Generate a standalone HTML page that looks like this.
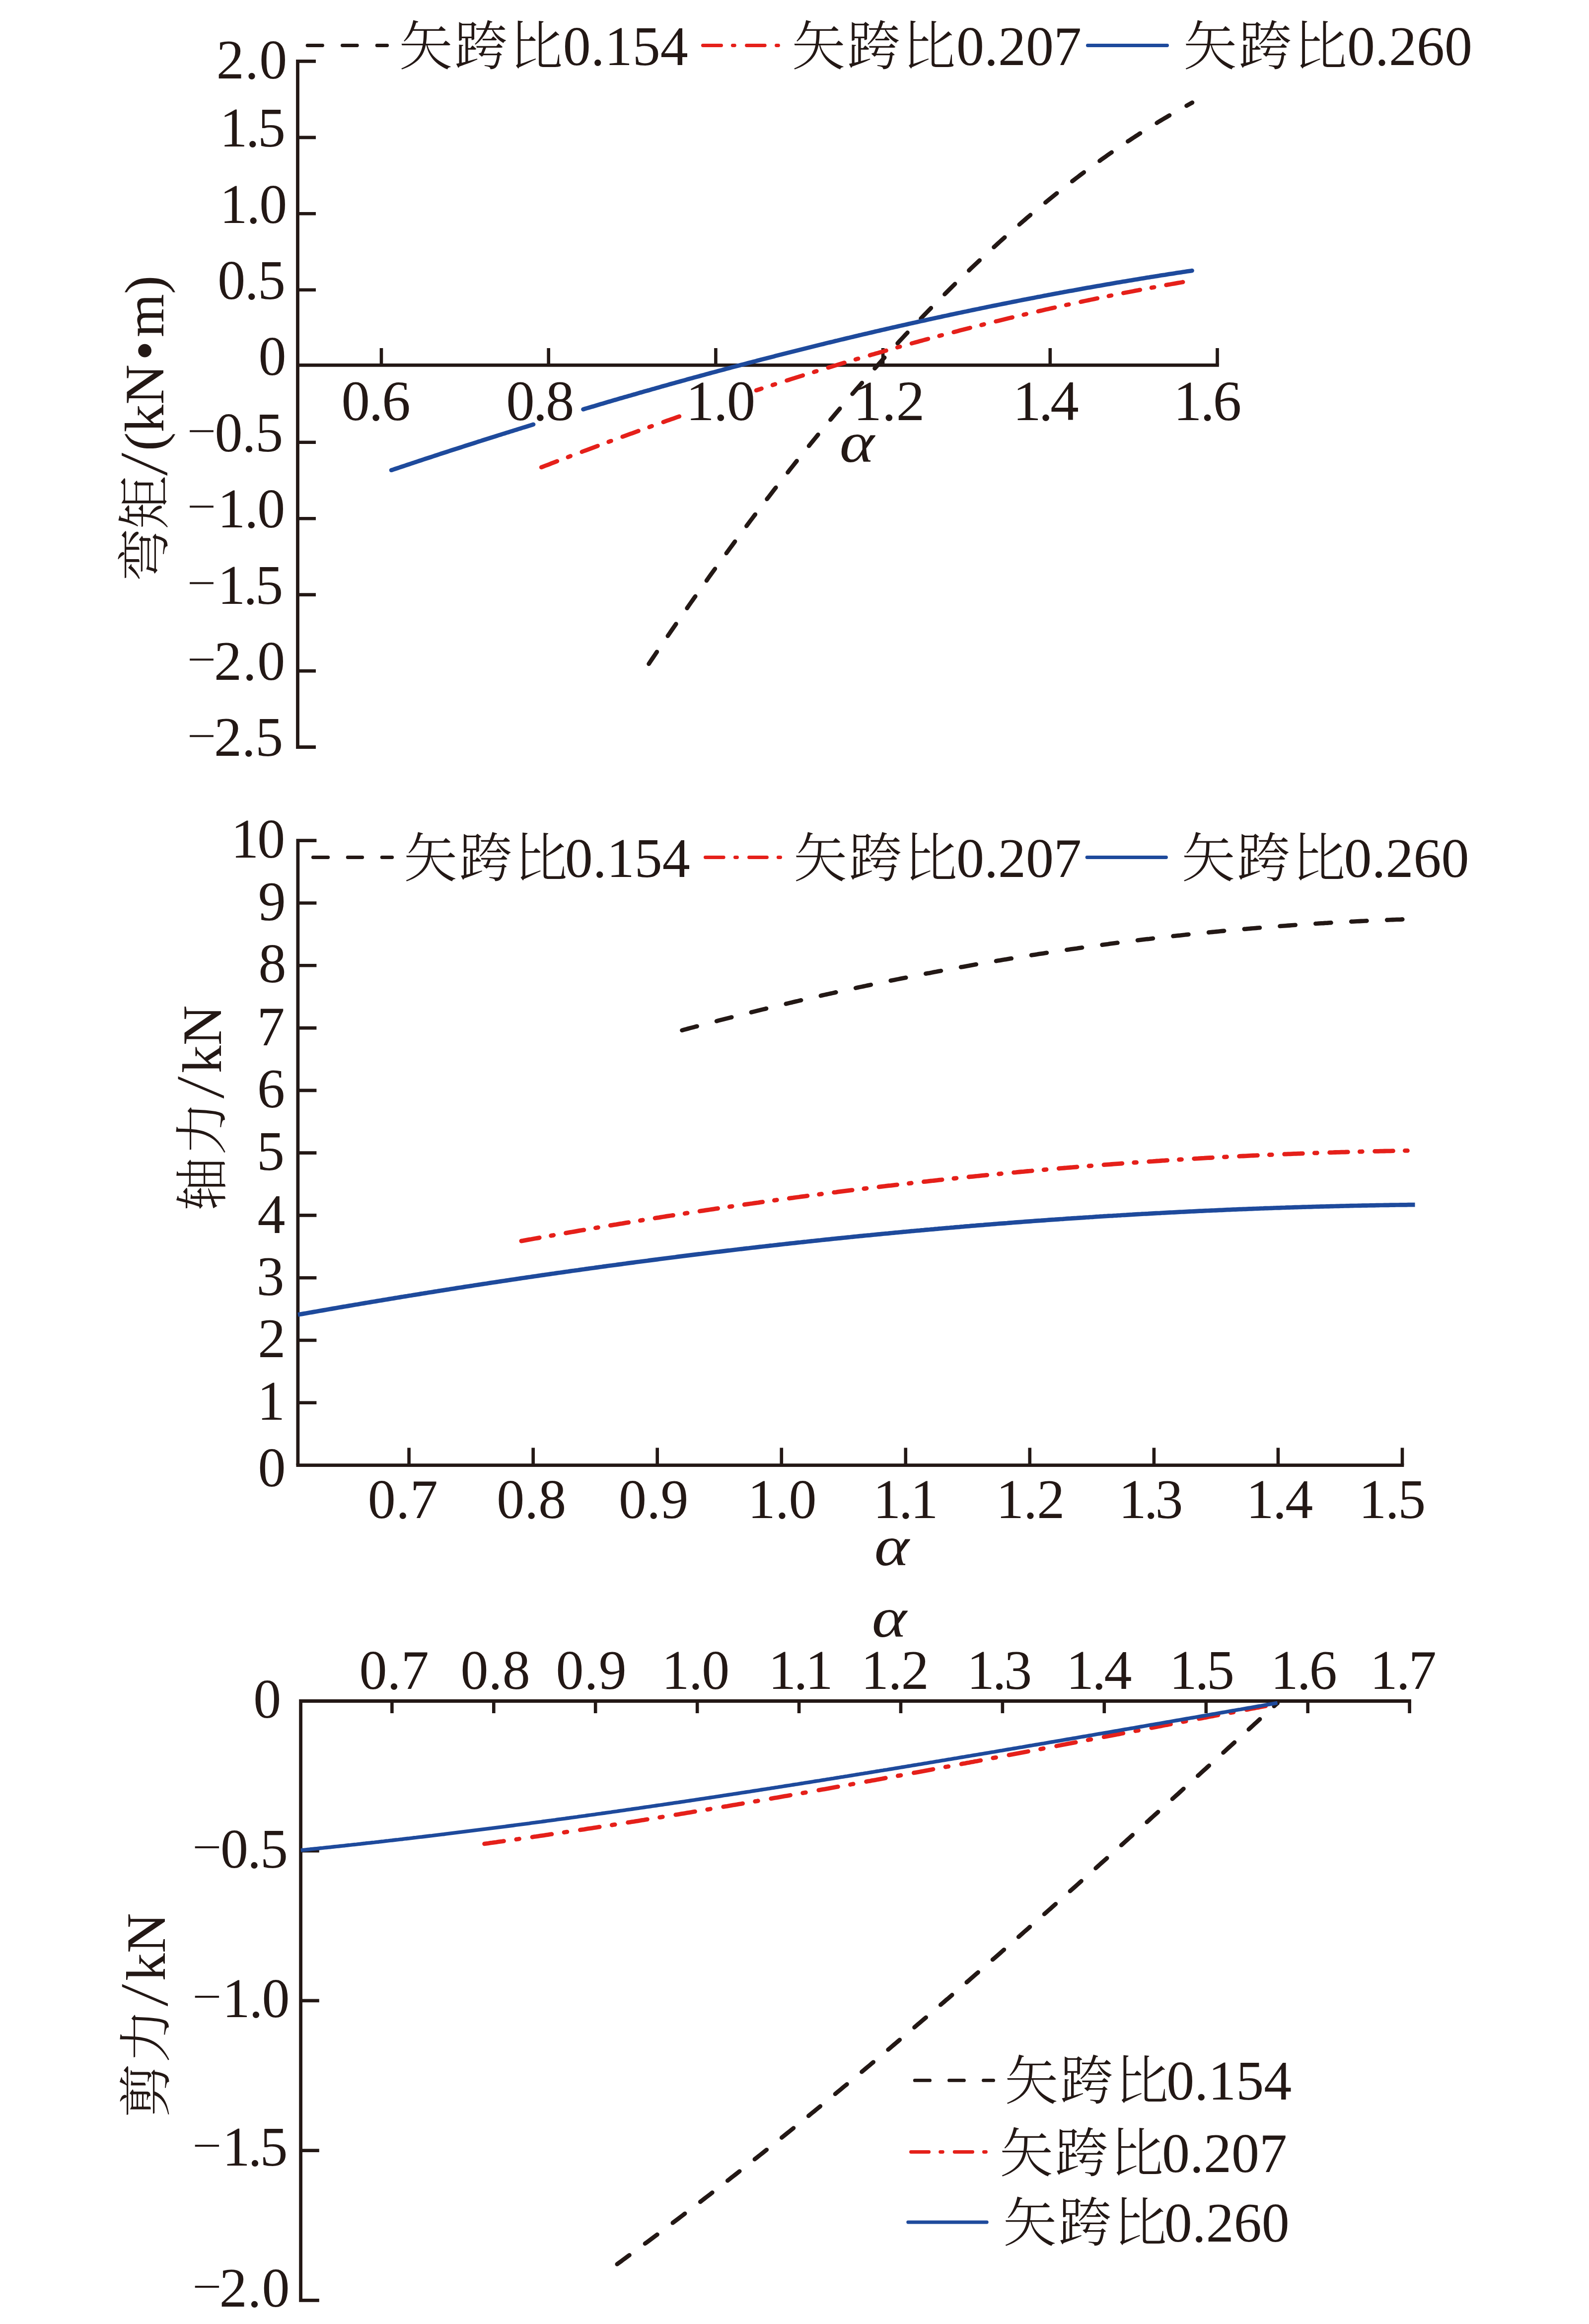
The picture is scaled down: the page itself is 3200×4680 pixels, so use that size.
<!DOCTYPE html>
<html><head><meta charset="utf-8"><title>矢跨比与弯矩、轴力、剪力关系</title>
<style>
html,body{margin:0;padding:0;background:#fff;width:3200px;height:4680px;}
::-webkit-scrollbar{width:0;height:0;display:none;}
svg{display:block;}
text{font-family:"Liberation Serif", "Noto Serif CJK SC", serif;fill:#231815;}
</style></head>
<body>
<svg width="3200" height="4680" viewBox="0 0 3200 4680">
<rect width="3200" height="4680" fill="#fff"/>
<path d="M636,123.4 H599.5 V1504.5 H636" fill="none" stroke="#231815" stroke-width="6.8"/>
<line x1="599.5" y1="735.3" x2="2454.8" y2="735.3" stroke="#231815" stroke-width="6.8"/>
<line x1="599.5" y1="276.9" x2="636.0" y2="276.9" stroke="#231815" stroke-width="6.6"/>
<line x1="599.5" y1="430.3" x2="636.0" y2="430.3" stroke="#231815" stroke-width="6.6"/>
<line x1="599.5" y1="583.8" x2="636.0" y2="583.8" stroke="#231815" stroke-width="6.6"/>
<line x1="599.5" y1="890.7" x2="636.0" y2="890.7" stroke="#231815" stroke-width="6.6"/>
<line x1="599.5" y1="1044.2" x2="636.0" y2="1044.2" stroke="#231815" stroke-width="6.6"/>
<line x1="599.5" y1="1197.6" x2="636.0" y2="1197.6" stroke="#231815" stroke-width="6.6"/>
<line x1="599.5" y1="1351.1" x2="636.0" y2="1351.1" stroke="#231815" stroke-width="6.6"/>
<line x1="768.0" y1="735.3" x2="768.0" y2="701.0" stroke="#231815" stroke-width="6.6"/>
<line x1="1104.7" y1="735.3" x2="1104.7" y2="701.0" stroke="#231815" stroke-width="6.6"/>
<line x1="1441.4" y1="735.3" x2="1441.4" y2="701.0" stroke="#231815" stroke-width="6.6"/>
<line x1="1778.1" y1="735.3" x2="1778.1" y2="701.0" stroke="#231815" stroke-width="6.6"/>
<line x1="2114.8" y1="735.3" x2="2114.8" y2="701.0" stroke="#231815" stroke-width="6.6"/>
<line x1="2451.5" y1="735.3" x2="2451.5" y2="701.0" stroke="#231815" stroke-width="6.6"/>
<text x="435.8" y="158.1" font-size="112" letter-spacing="1.19">2.0</text>
<text x="442.4" y="295.3" font-size="112" letter-spacing="-3.64">1.5</text>
<text x="442.4" y="449.3" font-size="112" letter-spacing="-2.1">1.0</text>
<text x="438.3" y="602.2" font-size="112" letter-spacing="-1.63">0.5</text>
<text x="520.4" y="754.5" font-size="112">0</text>
<text x="432.6" y="908.9" font-size="112" letter-spacing="-1.18">0.5</text>
<text transform="translate(377.0,894.9) scale(1,0.78)" font-size="102.7">&#8722;</text>
<text x="438.2" y="1062.3" font-size="112" letter-spacing="-1.95">1.0</text>
<text transform="translate(377.0,1046.6) scale(1,0.78)" font-size="102.7">&#8722;</text>
<text x="438.2" y="1216.1" font-size="112" letter-spacing="-3.94">1.5</text>
<text transform="translate(377.0,1201.1) scale(1,0.78)" font-size="102.7">&#8722;</text>
<text x="431.1" y="1369.2" font-size="112" letter-spacing="1.59">2.0</text>
<text transform="translate(377.0,1354.6) scale(1,0.78)" font-size="102.7">&#8722;</text>
<text x="431.1" y="1522.0" font-size="112" letter-spacing="-0.4">2.5</text>
<text transform="translate(377.0,1509.1) scale(1,0.78)" font-size="102.7">&#8722;</text>
<text x="687.5" y="846.0" font-size="115" letter-spacing="-2.22">0.6</text>
<text x="1019.3" y="846.0" font-size="115" letter-spacing="-3.25">0.8</text>
<text x="1381.3" y="846.0" font-size="115" letter-spacing="-1.88">1.0</text>
<text x="1718.4" y="846.0" font-size="115" letter-spacing="0.05">1.2</text>
<text x="2039.5" y="846.0" font-size="115" letter-spacing="-5.22">1.4</text>
<text x="2362.9" y="846.0" font-size="115" letter-spacing="-3.21">1.6</text>
<text transform="translate(1690.8,929.6) scale(1.192,1.037)" font-size="112" font-style="italic">α</text>
<text transform="translate(329.4,1171) rotate(-90)" x="-0.2" y="0" font-size="108" font-weight="300">弯</text>
<text transform="translate(329.4,1171) rotate(-90)" x="105.2" y="0" font-size="108" font-weight="300">矩</text>
<text transform="translate(329.4,1171) rotate(-90)" x="262.9" y="0" font-size="112">(kN</text>
<text transform="translate(329.4,1171) rotate(-90)" x="445.2" y="0" font-size="112">•</text>
<text transform="translate(329.4,1171) rotate(-90)" x="491.9" y="0" font-size="112">m)</text>
<text transform="translate(329.4,1171) rotate(-90) translate(212.3,-9.9) scale(1.246,0.873)" font-size="112" font-weight="300" style="font-family:&quot;Noto Serif CJK SC&quot;, serif">/</text>
<path d="M1306.6,1336.9 L1310.6,1330.9 L1314.6,1325.0 L1318.6,1319.1 L1322.6,1313.2 L1322.9,1312.7 M1344.8,1280.6 L1348.6,1275.1 L1352.6,1269.3 L1356.6,1263.5 L1360.6,1257.7 L1361.4,1256.6 M1383.6,1224.7 L1387.1,1219.6 L1391.1,1213.9 L1395.1,1208.2 L1399.1,1202.6 L1400.3,1200.9 M1422.9,1169.2 L1426.6,1163.9 L1430.6,1158.3 L1434.6,1152.8 L1438.6,1147.2 L1439.9,1145.5 M1462.8,1114.0 L1466.7,1108.7 L1470.7,1103.3 L1474.7,1097.9 L1478.7,1092.4 L1480.1,1090.5 M1503.3,1059.3 L1507.2,1054.2 L1511.2,1048.8 L1515.2,1043.5 L1519.2,1038.2 L1520.9,1036.0 M1544.5,1005.0 L1548.2,1000.3 L1552.2,995.1 L1556.2,989.9 L1560.2,984.7 L1562.4,981.9 M1586.4,951.3 L1590.2,946.4 L1594.2,941.4 L1598.2,936.3 L1602.2,931.3 L1604.6,928.3 M1629.0,898.0 L1632.7,893.4 L1636.7,888.5 L1640.7,883.6 L1644.7,878.7 L1647.5,875.3 M1672.4,845.3 L1676.2,840.7 L1680.2,835.9 L1684.2,831.2 L1688.2,826.5 L1691.2,822.9 M1716.6,793.3 L1720.3,789.0 L1724.3,784.4 L1728.3,779.8 L1732.3,775.2 L1735.8,771.1 M1761.6,741.9 L1765.3,737.8 L1769.3,733.3 L1773.3,728.9 L1777.3,724.4 L1781.2,720.1 M1807.6,691.3 L1811.3,687.2 L1815.3,682.9 L1819.3,678.6 L1823.3,674.3 L1827.3,670.1 L1827.5,669.8 M1854.5,641.4 L1858.3,637.4 L1862.3,633.3 L1866.3,629.1 L1870.3,625.0 L1874.3,620.9 L1874.9,620.3 M1902.4,592.5 L1906.3,588.6 L1910.3,584.6 L1914.3,580.6 L1918.3,576.7 L1922.3,572.7 L1923.2,571.8 M1951.3,544.6 L1955.3,540.7 L1959.3,536.9 L1963.3,533.1 L1967.3,529.4 L1971.3,525.6 L1972.7,524.3 M2001.5,497.7 L2005.4,494.2 L2009.4,490.5 L2013.4,486.9 L2017.4,483.3 L2021.4,479.7 L2023.3,478.0 M2052.8,452.1 L2056.4,448.9 L2060.4,445.5 L2064.4,442.1 L2068.4,438.6 L2072.4,435.2 L2075.1,432.9 M2105.3,407.8 L2108.9,404.9 L2112.9,401.6 L2116.9,398.4 L2120.9,395.1 L2124.9,391.9 L2128.3,389.2 M2159.2,365.0 L2162.9,362.2 L2166.9,359.1 L2170.9,356.1 L2174.9,353.0 L2178.9,350.0 L2182.8,347.1 M2214.5,323.9 L2218.4,321.1 L2222.4,318.2 L2226.4,315.4 L2230.4,312.6 L2234.4,309.8 L2238.4,307.0 L2238.7,306.8 M2271.3,284.7 L2275.0,282.3 L2279.0,279.6 L2283.0,277.0 L2287.0,274.4 L2291.0,271.8 L2295.0,269.2 L2296.1,268.5 M2329.6,247.6 L2333.5,245.2 L2337.5,242.8 L2341.5,240.4 L2345.5,238.1 L2349.5,235.7 L2353.5,233.3 L2355.1,232.4 M2389.5,212.9 L2393.5,210.7 L2397.5,208.5 L2401.0,206.6" fill="none" stroke="#231815" stroke-width="8.6" stroke-linecap="round"/>
<path d="M1090.2,941.0 L1094.2,939.5 L1098.2,937.9 L1102.2,936.4 L1106.2,934.9 L1110.2,933.3 L1114.2,931.8 L1118.2,930.2 L1122.0,928.8 M1143.8,920.5 L1144.2,920.3 L1144.7,920.1 L1145.2,919.9 L1145.7,919.7 L1146.2,919.6 L1146.7,919.4 L1147.2,919.2 L1147.7,919.0 L1148.2,918.8 L1148.7,918.6 L1148.8,918.6 M1171.8,909.9 L1175.7,908.4 L1179.7,906.9 L1183.7,905.4 L1187.7,903.9 L1191.7,902.4 L1195.7,900.9 L1199.7,899.4 L1203.7,897.9 M1225.6,889.8 L1225.7,889.8 L1226.2,889.6 L1226.7,889.4 L1227.2,889.2 L1227.7,889.0 L1228.2,888.8 L1228.7,888.6 L1229.2,888.5 L1229.7,888.3 L1230.2,888.1 L1230.6,888.0 M1253.6,879.5 L1257.2,878.2 L1261.2,876.7 L1265.2,875.3 L1269.2,873.8 L1273.2,872.4 L1277.2,870.9 L1281.2,869.5 L1285.2,868.0 L1285.7,867.8 M1307.6,859.9 L1307.7,859.9 L1308.2,859.7 L1308.7,859.6 L1309.2,859.4 L1309.7,859.2 L1310.2,859.0 L1310.7,858.8 L1311.2,858.7 L1311.7,858.5 L1312.2,858.3 L1312.7,858.1 M1335.8,849.9 L1339.7,848.5 L1343.7,847.1 L1347.7,845.7 L1351.7,844.3 L1355.7,842.9 L1359.7,841.5 L1363.7,840.1 L1367.7,838.7 L1368.0,838.6 M1523.0,786.1 L1526.7,784.9 L1530.7,783.6 L1533.6,782.6 M1555.9,775.4 L1556.2,775.3 L1556.7,775.1 L1557.2,775.0 L1557.7,774.8 L1558.2,774.7 L1558.7,774.5 L1559.2,774.3 L1559.7,774.2 L1560.2,774.0 L1560.7,773.8 L1561.0,773.8 M1584.4,766.3 L1588.2,765.1 L1592.2,763.8 L1596.2,762.5 L1600.2,761.3 L1604.2,760.0 L1608.2,758.8 L1612.2,757.5 L1616.2,756.3 L1616.9,756.0 M1639.3,749.1 L1639.7,749.0 L1640.2,748.8 L1640.7,748.6 L1641.2,748.5 L1641.7,748.3 L1642.2,748.2 L1642.7,748.0 L1643.2,747.9 L1643.7,747.7 L1644.2,747.6 L1644.4,747.5 M1667.9,740.3 L1671.7,739.2 L1675.7,737.9 L1679.7,736.7 L1683.7,735.5 L1687.7,734.3 L1691.7,733.1 L1695.7,731.9 L1699.7,730.7 L1700.6,730.5 M1723.0,723.8 L1723.2,723.7 L1723.7,723.6 L1724.2,723.4 L1724.7,723.3 L1725.2,723.1 L1725.7,723.0 L1726.2,722.8 L1726.7,722.7 L1727.2,722.6 L1727.7,722.4 L1728.2,722.3 M1751.8,715.4 L1755.8,714.2 L1759.8,713.1 L1763.8,711.9 L1767.8,710.8 L1771.8,709.6 L1775.8,708.5 L1779.8,707.3 L1783.8,706.2 L1784.6,705.9 M1807.2,699.5 L1810.8,698.5 L1812.3,698.1 M1836.0,691.5 L1839.8,690.5 L1843.8,689.4 L1847.8,688.3 L1851.8,687.2 L1855.8,686.1 L1859.8,685.0 L1863.8,683.9 L1867.8,682.8 L1869.0,682.5 M1891.6,676.4 L1895.3,675.4 L1896.8,675.0 M1920.6,668.8 L1924.3,667.8 L1928.3,666.8 L1932.3,665.7 L1936.3,664.7 L1940.3,663.7 L1944.3,662.6 L1948.3,661.6 L1952.3,660.6 L1953.7,660.2 M1976.4,654.4 L1976.8,654.4 L1977.3,654.2 L1977.8,654.1 L1978.3,654.0 L1978.8,653.9 L1979.3,653.7 L1979.8,653.6 L1980.3,653.5 L1980.8,653.4 L1981.3,653.2 L1981.6,653.1 M2005.5,647.2 L2009.3,646.3 L2013.3,645.3 L2017.3,644.3 L2021.3,643.4 L2025.3,642.4 L2029.3,641.4 L2033.3,640.4 L2037.3,639.5 L2038.8,639.1 M2061.6,633.7 L2065.3,632.8 L2066.8,632.5 M2090.8,626.9 L2094.8,626.0 L2098.8,625.1 L2102.8,624.1 L2106.8,623.2 L2110.8,622.3 L2114.8,621.4 L2118.8,620.5 L2122.8,619.6 L2124.2,619.3 M2147.0,614.2 L2150.8,613.4 L2152.3,613.1 M2176.4,607.9 L2180.3,607.0 L2184.3,606.2 L2188.3,605.3 L2192.3,604.5 L2196.3,603.7 L2200.3,602.8 L2204.3,602.0 L2208.3,601.1 L2209.9,600.8 M2232.8,596.1 L2233.3,596.0 L2233.8,595.9 L2234.3,595.8 L2234.8,595.7 L2235.3,595.6 L2235.8,595.5 L2236.3,595.4 L2236.8,595.3 L2237.3,595.2 L2237.8,595.1 L2238.1,595.0 M2262.3,590.2 L2266.3,589.4 L2270.3,588.6 L2274.3,587.9 L2278.3,587.1 L2282.3,586.3 L2286.3,585.5 L2290.3,584.8 L2294.3,584.0 L2295.9,583.7 M2319.0,579.4 L2319.3,579.3 L2319.8,579.2 L2320.3,579.1 L2320.8,579.0 L2321.3,578.9 L2321.8,578.8 L2322.3,578.7 L2322.8,578.7 L2323.3,578.6 L2323.8,578.5 L2324.3,578.4 M2348.5,574.0 L2352.3,573.3 L2356.3,572.6 L2360.3,571.9 L2364.3,571.2 L2368.3,570.5 L2372.3,569.8 L2376.3,569.1 L2380.3,568.4 L2382.2,568.0" fill="none" stroke="#e5201a" stroke-width="8.5" stroke-linecap="round"/>
<path d="M788.1,946.8 L792.1,945.5 L796.1,944.1 L800.1,942.8 L804.1,941.5 L808.1,940.1 L812.1,938.8 L816.1,937.5 L820.1,936.1 L824.1,934.8 L828.1,933.5 L832.1,932.2 L836.1,930.8 L840.1,929.5 L844.1,928.2 L848.1,926.9 L852.1,925.5 L856.1,924.2 L860.1,922.9 L864.1,921.6 L868.1,920.3 L872.1,919.0 L876.1,917.7 L880.1,916.4 L884.1,915.0 L888.1,913.7 L892.1,912.4 L896.1,911.1 L900.1,909.8 L904.1,908.5 L908.1,907.2 L912.1,905.9 L916.1,904.6 L920.1,903.4 L924.1,902.1 L928.1,900.8 L932.1,899.5 L936.1,898.2 L940.1,896.9 L944.1,895.6 L948.1,894.3 L952.1,893.1 L956.1,891.8 L960.1,890.5 L964.1,889.2 L968.1,888.0 L972.1,886.7 L976.1,885.4 L980.1,884.1 L984.1,882.9 L988.1,881.6 L992.1,880.3 L996.1,879.1 L1000.1,877.8 L1004.1,876.5 L1008.1,875.3 L1012.1,874.0 L1016.1,872.8 L1020.1,871.5 L1024.1,870.3 L1028.1,869.0 L1032.1,867.8 L1036.1,866.5 L1040.1,865.3 L1044.1,864.0 L1048.1,862.8 L1052.1,861.5 L1056.1,860.3 L1060.1,859.1 L1064.1,857.8 L1068.1,856.6 L1072.1,855.3 L1074.1,854.7 M1174.5,824.3 L1178.1,823.2 L1182.1,822.0 L1186.1,820.8 L1190.1,819.6 L1194.1,818.5 L1198.1,817.3 L1202.1,816.1 L1206.1,814.9 L1210.1,813.7 L1214.1,812.6 L1218.1,811.4 L1222.1,810.2 L1226.1,809.0 L1230.1,807.9 L1234.1,806.7 L1238.1,805.5 L1242.1,804.4 L1246.1,803.2 L1250.1,802.0 L1254.1,800.9 L1258.1,799.7 L1262.1,798.6 L1266.1,797.4 L1270.1,796.3 L1274.1,795.1 L1278.1,794.0 L1282.1,792.8 L1286.1,791.7 L1290.1,790.5 L1294.1,789.4 L1298.1,788.2 L1302.1,787.1 L1306.1,786.0 L1310.1,784.8 L1314.1,783.7 L1318.1,782.6 L1322.1,781.4 L1326.1,780.3 L1330.1,779.2 L1334.1,778.0 L1338.1,776.9 L1342.1,775.8 L1346.1,774.7 L1350.1,773.5 L1354.1,772.4 L1358.1,771.3 L1362.1,770.2 L1366.1,769.1 L1370.1,768.0 L1374.1,766.9 L1378.1,765.8 L1382.1,764.7 L1386.1,763.5 L1390.1,762.4 L1394.1,761.3 L1398.1,760.2 L1402.1,759.2 L1406.1,758.1 L1410.1,757.0 L1414.1,755.9 L1418.1,754.8 L1422.1,753.7 L1426.1,752.6 L1430.1,751.5 L1434.1,750.4 L1438.1,749.4 L1442.1,748.3 L1446.1,747.2 L1450.1,746.1 L1454.1,745.1 L1458.1,744.0 L1462.1,742.9 L1466.1,741.8 L1470.1,740.8 L1474.1,739.7 L1478.1,738.6 L1482.1,737.6 L1486.1,736.5 L1490.1,735.5 L1494.1,734.4 L1498.1,733.4 L1502.1,732.3 L1506.1,731.2 L1510.1,730.2 L1514.1,729.2 L1518.1,728.1 L1522.1,727.1 L1526.1,726.0 L1530.1,725.0 L1534.1,723.9 L1538.1,722.9 L1542.1,721.9 L1546.1,720.8 L1550.1,719.8 L1554.1,718.8 L1558.1,717.8 L1562.1,716.7 L1566.1,715.7 L1570.1,714.7 L1574.1,713.7 L1578.1,712.6 L1582.1,711.6 L1586.1,710.6 L1590.1,709.6 L1594.1,708.6 L1598.1,707.6 L1602.1,706.6 L1606.1,705.6 L1610.1,704.6 L1614.1,703.6 L1618.1,702.6 L1622.1,701.6 L1626.1,700.6 L1630.1,699.6 L1634.1,698.6 L1638.1,697.6 L1642.1,696.6 L1646.1,695.6 L1650.1,694.6 L1654.1,693.6 L1658.1,692.7 L1662.1,691.7 L1666.1,690.7 L1670.1,689.7 L1674.1,688.8 L1678.1,687.8 L1682.1,686.8 L1686.1,685.9 L1690.1,684.9 L1694.1,683.9 L1698.1,683.0 L1702.1,682.0 L1706.1,681.0 L1710.1,680.1 L1714.1,679.1 L1718.1,678.2 L1722.1,677.2 L1726.1,676.3 L1730.1,675.3 L1734.1,674.4 L1738.1,673.4 L1742.1,672.5 L1746.1,671.6 L1750.1,670.6 L1754.1,669.7 L1758.1,668.8 L1762.1,667.8 L1766.1,666.9 L1770.1,666.0 L1774.1,665.0 L1778.1,664.1 L1782.1,663.2 L1786.1,662.3 L1790.1,661.4 L1794.1,660.4 L1798.1,659.5 L1802.1,658.6 L1806.1,657.7 L1810.1,656.8 L1814.1,655.9 L1818.1,655.0 L1822.1,654.1 L1826.1,653.2 L1830.1,652.3 L1834.1,651.4 L1838.1,650.5 L1842.1,649.6 L1846.1,648.7 L1850.1,647.8 L1854.1,646.9 L1858.1,646.0 L1862.1,645.2 L1866.1,644.3 L1870.1,643.4 L1874.1,642.5 L1878.1,641.6 L1882.1,640.8 L1886.1,639.9 L1890.1,639.0 L1894.1,638.2 L1898.1,637.3 L1902.1,636.4 L1906.1,635.6 L1910.1,634.7 L1914.1,633.8 L1918.1,633.0 L1922.1,632.1 L1926.1,631.3 L1930.1,630.4 L1934.1,629.6 L1938.1,628.7 L1942.1,627.9 L1946.1,627.1 L1950.1,626.2 L1954.1,625.4 L1958.1,624.5 L1962.1,623.7 L1966.1,622.9 L1970.1,622.1 L1974.1,621.2 L1978.1,620.4 L1982.1,619.6 L1986.1,618.8 L1990.1,617.9 L1994.1,617.1 L1998.1,616.3 L2002.1,615.5 L2006.1,614.7 L2010.1,613.9 L2014.1,613.1 L2018.1,612.3 L2022.1,611.5 L2026.1,610.7 L2030.1,609.9 L2034.1,609.1 L2038.1,608.3 L2042.1,607.5 L2046.1,606.7 L2050.1,605.9 L2054.1,605.1 L2058.1,604.3 L2062.1,603.5 L2066.1,602.8 L2070.1,602.0 L2074.1,601.2 L2078.1,600.4 L2082.1,599.7 L2086.1,598.9 L2090.1,598.1 L2094.1,597.4 L2098.1,596.6 L2102.1,595.8 L2106.1,595.1 L2110.1,594.3 L2114.1,593.6 L2118.1,592.8 L2122.1,592.0 L2126.1,591.3 L2130.1,590.6 L2134.1,589.8 L2138.1,589.1 L2142.1,588.3 L2146.1,587.6 L2150.1,586.8 L2154.1,586.1 L2158.1,585.4 L2162.1,584.7 L2166.1,583.9 L2170.1,583.2 L2174.1,582.5 L2178.1,581.8 L2182.1,581.0 L2186.1,580.3 L2190.1,579.6 L2194.1,578.9 L2198.1,578.2 L2202.1,577.5 L2206.1,576.8 L2210.1,576.1 L2214.1,575.4 L2218.1,574.7 L2222.1,574.0 L2226.1,573.3 L2230.1,572.6 L2234.1,571.9 L2238.1,571.2 L2242.1,570.5 L2246.1,569.8 L2250.1,569.1 L2254.1,568.4 L2258.1,567.8 L2262.1,567.1 L2266.1,566.4 L2270.1,565.7 L2274.1,565.1 L2278.1,564.4 L2282.1,563.7 L2286.1,563.1 L2290.1,562.4 L2294.1,561.7 L2298.1,561.1 L2302.1,560.4 L2306.1,559.8 L2310.1,559.1 L2314.1,558.5 L2318.1,557.8 L2322.1,557.2 L2326.1,556.6 L2330.1,555.9 L2334.1,555.3 L2338.1,554.6 L2342.1,554.0 L2346.1,553.4 L2350.1,552.7 L2354.1,552.1 L2358.1,551.5 L2362.1,550.9 L2366.1,550.3 L2370.1,549.6 L2374.1,549.0 L2378.1,548.4 L2382.1,547.8 L2386.1,547.2 L2390.1,546.6 L2394.1,546.0 L2398.1,545.4 L2400.6,545.0" fill="none" stroke="#1e4a9c" stroke-width="8.6" stroke-linecap="round"/>
<path d="M619.1,91.5 L649.5,91.5 M689.4,91.5 L719.3,91.5 M759.2,91.5 L779.7,91.5" fill="none" stroke="#231815" stroke-width="6.8" stroke-linecap="round"/>
<text x="803.5" y="131.3" font-size="108" letter-spacing="3.0" font-weight="300">矢跨比</text>
<text x="1133.8" y="130.8" font-size="112">0.154</text>
<path d="M1415.4,91.5 L1452.6,91.5 M1475.4,91.5 L1479.4,91.5 M1503.5,91.5 L1540.3,91.5 M1563.5,91.5 L1567.5,91.5" fill="none" stroke="#e5201a" stroke-width="6.8" stroke-linecap="round"/>
<text x="1594.5" y="131.3" font-size="108" letter-spacing="3.0" font-weight="300">矢跨比</text>
<text x="1925.9" y="130.8" font-size="112">0.207</text>
<path d="M2190.4,91.5 L2350.6,91.5" fill="none" stroke="#1e4a9c" stroke-width="6.8" stroke-linecap="round"/>
<text x="2383.1" y="131.3" font-size="108" letter-spacing="3.0" font-weight="300">矢跨比</text>
<text x="2713.1" y="130.8" font-size="112">0.260</text>
<path d="M637.4,1692.7 H599.9 V2950.6" fill="none" stroke="#231815" stroke-width="6.8"/>
<line x1="596.5" y1="2950.6" x2="2827.3" y2="2950.6" stroke="#231815" stroke-width="6.8"/>
<line x1="599.9" y1="2824.8" x2="637.4" y2="2824.8" stroke="#231815" stroke-width="6.6"/>
<line x1="599.9" y1="2699.0" x2="637.4" y2="2699.0" stroke="#231815" stroke-width="6.6"/>
<line x1="599.9" y1="2573.2" x2="637.4" y2="2573.2" stroke="#231815" stroke-width="6.6"/>
<line x1="599.9" y1="2447.4" x2="637.4" y2="2447.4" stroke="#231815" stroke-width="6.6"/>
<line x1="599.9" y1="2321.6" x2="637.4" y2="2321.6" stroke="#231815" stroke-width="6.6"/>
<line x1="599.9" y1="2195.9" x2="637.4" y2="2195.9" stroke="#231815" stroke-width="6.6"/>
<line x1="599.9" y1="2070.1" x2="637.4" y2="2070.1" stroke="#231815" stroke-width="6.6"/>
<line x1="599.9" y1="1944.3" x2="637.4" y2="1944.3" stroke="#231815" stroke-width="6.6"/>
<line x1="599.9" y1="1818.5" x2="637.4" y2="1818.5" stroke="#231815" stroke-width="6.6"/>
<line x1="823.6" y1="2950.6" x2="823.6" y2="2915.5" stroke="#231815" stroke-width="6.6"/>
<line x1="1073.7" y1="2950.6" x2="1073.7" y2="2915.5" stroke="#231815" stroke-width="6.6"/>
<line x1="1323.7" y1="2950.6" x2="1323.7" y2="2915.5" stroke="#231815" stroke-width="6.6"/>
<line x1="1573.8" y1="2950.6" x2="1573.8" y2="2915.5" stroke="#231815" stroke-width="6.6"/>
<line x1="1823.8" y1="2950.6" x2="1823.8" y2="2915.5" stroke="#231815" stroke-width="6.6"/>
<line x1="2073.8" y1="2950.6" x2="2073.8" y2="2915.5" stroke="#231815" stroke-width="6.6"/>
<line x1="2323.9" y1="2950.6" x2="2323.9" y2="2915.5" stroke="#231815" stroke-width="6.6"/>
<line x1="2573.9" y1="2950.6" x2="2573.9" y2="2915.5" stroke="#231815" stroke-width="6.6"/>
<line x1="2824.0" y1="2950.6" x2="2824.0" y2="2915.5" stroke="#231815" stroke-width="6.6"/>
<text x="465.2" y="1727.2" font-size="112" letter-spacing="-2.89">10</text>
<text x="519.8" y="1852.6" font-size="112">9</text>
<text x="520.4" y="1978.1" font-size="112">8</text>
<text x="517.5" y="2105.4" font-size="112">7</text>
<text x="518.1" y="2230.3" font-size="112">6</text>
<text x="517.1" y="2356.1" font-size="112">5</text>
<text x="518.4" y="2482.6" font-size="112">4</text>
<text x="516.5" y="2608.3" font-size="112">3</text>
<text x="519.3" y="2733.3" font-size="112">2</text>
<text x="518.1" y="2858.5" font-size="112">1</text>
<text x="519.5" y="2992.5" font-size="112">0</text>
<text x="740.7" y="3057.0" font-size="112" letter-spacing="0.55">0.7</text>
<text x="1000.3" y="3057.0" font-size="112" letter-spacing="0.02">0.8</text>
<text x="1246.1" y="3057.0" font-size="112" letter-spacing="0.18">0.9</text>
<text x="1505.7" y="3057.0" font-size="112" letter-spacing="-0.65">1.0</text>
<text x="1758.2" y="3056.7" font-size="112" letter-spacing="-4.31">1.1</text>
<text x="2005.9" y="3056.8" font-size="112" letter-spacing="-0.84">1.2</text>
<text x="2252.8" y="3056.8" font-size="112" letter-spacing="-5.09">1.3</text>
<text x="2509.6" y="3056.7" font-size="112" letter-spacing="-2.65">1.4</text>
<text x="2736.2" y="3056.7" font-size="112" letter-spacing="-2.49">1.5</text>
<text transform="translate(1760.8,3151.8) scale(1.192,1.021)" font-size="112" font-style="italic">α</text>
<text transform="translate(444.7,2433.9) rotate(-90)" x="-4.6" y="0" font-size="108" font-weight="300">轴</text>
<text transform="translate(444.7,2433.9) rotate(-90)" x="107.4" y="0" font-size="108" font-weight="300">力</text>
<text transform="translate(444.7,2433.9) rotate(-90)" x="272.7" y="0" font-size="112">kN</text>
<text transform="translate(444.7,2433.9) rotate(-90) translate(221.0,-10.3) scale(1.209,0.878)" font-size="112" font-weight="300" style="font-family:&quot;Noto Serif CJK SC&quot;, serif">/</text>
<path d="M1373.5,2074.8 L1377.5,2073.7 L1381.5,2072.6 L1385.5,2071.5 L1389.5,2070.4 L1393.5,2069.4 L1397.5,2068.3 L1401.5,2067.2 L1403.6,2066.7 M1443.1,2056.3 L1447.0,2055.2 L1451.0,2054.2 L1455.0,2053.2 L1459.0,2052.1 L1463.0,2051.1 L1467.0,2050.1 L1471.0,2049.1 L1473.3,2048.5 M1512.9,2038.5 L1516.5,2037.6 L1520.5,2036.6 L1524.5,2035.6 L1528.5,2034.6 L1532.5,2033.6 L1536.5,2032.6 L1540.5,2031.7 L1543.1,2031.0 M1582.8,2021.5 L1586.5,2020.6 L1590.5,2019.6 L1594.5,2018.7 L1598.5,2017.7 L1602.5,2016.8 L1606.5,2015.9 L1610.5,2014.9 L1613.2,2014.3 M1652.9,2005.2 L1656.5,2004.3 L1660.5,2003.4 L1664.5,2002.5 L1668.5,2001.6 L1672.5,2000.7 L1676.5,1999.9 L1680.5,1999.0 L1683.4,1998.3 M1723.2,1989.6 L1727.0,1988.8 L1731.0,1987.9 L1735.0,1987.1 L1739.1,1986.2 L1743.1,1985.4 L1747.1,1984.5 L1751.1,1983.7 L1753.8,1983.1 M1793.7,1974.8 L1797.6,1974.1 L1801.6,1973.3 L1805.6,1972.4 L1809.6,1971.6 L1813.6,1970.8 L1817.6,1970.0 L1821.6,1969.2 L1824.3,1968.7 M1864.3,1960.8 L1868.1,1960.1 L1872.1,1959.4 L1876.1,1958.6 L1880.1,1957.8 L1884.1,1957.1 L1888.1,1956.3 L1892.1,1955.6 L1895.0,1955.0 M1935.1,1947.6 L1939.1,1946.9 L1943.1,1946.2 L1947.1,1945.5 L1951.1,1944.8 L1955.1,1944.0 L1959.1,1943.3 L1963.1,1942.6 L1965.8,1942.1 M2006.0,1935.2 L2009.6,1934.6 L2013.6,1933.9 L2017.6,1933.2 L2021.6,1932.6 L2025.6,1931.9 L2029.6,1931.2 L2033.6,1930.6 L2036.8,1930.1 M2077.1,1923.6 L2080.6,1923.0 L2084.6,1922.4 L2088.6,1921.8 L2092.6,1921.1 L2096.6,1920.5 L2100.6,1919.9 L2104.6,1919.3 L2107.9,1918.8 M2148.3,1912.7 L2152.1,1912.2 L2156.1,1911.6 L2160.1,1911.0 L2164.1,1910.4 L2168.1,1909.9 L2172.1,1909.3 L2176.1,1908.7 L2179.1,1908.3 M2219.6,1902.7 L2223.1,1902.2 L2227.1,1901.7 L2231.1,1901.2 L2235.1,1900.6 L2239.1,1900.1 L2243.1,1899.6 L2247.1,1899.1 L2250.5,1898.6 M2291.0,1893.5 L2294.6,1893.1 L2298.6,1892.6 L2302.6,1892.1 L2306.6,1891.6 L2310.6,1891.1 L2314.6,1890.7 L2318.6,1890.2 L2321.9,1889.8 M2362.5,1885.1 L2366.1,1884.7 L2370.1,1884.3 L2374.1,1883.9 L2378.1,1883.4 L2382.1,1883.0 L2386.1,1882.6 L2390.1,1882.1 L2393.5,1881.8 M2434.1,1877.6 L2437.6,1877.3 L2441.6,1876.9 L2445.6,1876.5 L2449.6,1876.1 L2453.6,1875.7 L2457.6,1875.3 L2461.6,1874.9 L2465.1,1874.6 M2505.8,1870.9 L2509.7,1870.6 L2513.7,1870.2 L2517.7,1869.9 L2521.7,1869.5 L2525.7,1869.2 L2529.7,1868.9 L2533.7,1868.5 L2536.9,1868.3 M2577.5,1865.0 L2581.2,1864.8 L2585.2,1864.5 L2589.2,1864.2 L2593.2,1863.9 L2597.2,1863.6 L2601.2,1863.3 L2605.2,1863.0 L2608.7,1862.8 M2649.4,1860.0 L2653.2,1859.8 L2657.2,1859.5 L2661.2,1859.3 L2665.2,1859.1 L2669.2,1858.8 L2673.2,1858.6 L2677.2,1858.3 L2680.5,1858.1 M2721.2,1855.9 L2725.2,1855.7 L2729.2,1855.5 L2733.2,1855.3 L2737.2,1855.1 L2741.2,1854.9 L2745.2,1854.7 L2749.2,1854.5 L2752.4,1854.4 M2793.2,1852.6 L2796.7,1852.5 L2800.7,1852.3 L2804.7,1852.1 L2808.7,1852.0 L2812.7,1851.8 L2816.7,1851.7 L2820.7,1851.6 L2824.3,1851.4" fill="none" stroke="#231815" stroke-width="8.6" stroke-linecap="round"/>
<path d="M1049.9,2499.1 L1053.9,2498.4 L1057.9,2497.6 L1061.9,2496.9 L1065.9,2496.2 L1069.9,2495.5 L1073.9,2494.7 L1077.9,2494.0 L1081.9,2493.3 L1085.9,2492.6 L1086.2,2492.5 M1109.7,2488.3 L1109.9,2488.3 L1110.4,2488.2 L1110.9,2488.1 L1111.4,2488.0 L1111.9,2487.9 L1112.4,2487.8 L1112.9,2487.8 L1113.4,2487.7 L1113.9,2487.6 L1114.4,2487.5 L1114.7,2487.4 M1139.5,2483.1 L1143.4,2482.4 L1147.4,2481.7 L1151.4,2481.0 L1155.4,2480.3 L1159.4,2479.6 L1163.4,2478.9 L1167.4,2478.2 L1171.4,2477.5 L1175.4,2476.8 L1175.9,2476.8 M1199.4,2472.7 L1199.9,2472.6 L1200.4,2472.6 L1200.9,2472.5 L1201.4,2472.4 L1201.9,2472.3 L1202.4,2472.2 L1202.9,2472.1 L1203.4,2472.1 L1203.9,2472.0 L1204.4,2471.9 M1229.3,2467.7 L1232.9,2467.1 L1236.9,2466.4 L1240.9,2465.8 L1244.9,2465.1 L1248.9,2464.4 L1252.9,2463.8 L1256.9,2463.1 L1260.9,2462.4 L1264.9,2461.8 L1265.7,2461.7 M1289.3,2457.8 L1289.4,2457.8 L1289.9,2457.7 L1290.4,2457.6 L1290.9,2457.5 L1291.4,2457.5 L1291.9,2457.4 L1292.4,2457.3 L1292.9,2457.2 L1293.4,2457.1 L1293.9,2457.1 L1294.2,2457.0 M1319.1,2453.0 L1322.9,2452.4 L1326.9,2451.8 L1330.9,2451.1 L1334.9,2450.5 L1338.9,2449.9 L1342.9,2449.2 L1346.9,2448.6 L1350.9,2448.0 L1354.9,2447.4 L1355.6,2447.3 M1379.2,2443.6 L1379.4,2443.6 L1379.9,2443.5 L1380.4,2443.4 L1380.9,2443.3 L1381.4,2443.2 L1381.9,2443.2 L1382.4,2443.1 L1382.9,2443.0 L1383.4,2442.9 L1383.9,2442.9 L1384.1,2442.8 M1409.1,2439.0 L1412.9,2438.4 L1416.9,2437.8 L1420.9,2437.2 L1424.9,2436.6 L1428.9,2436.0 L1432.9,2435.4 L1436.9,2434.8 L1440.9,2434.2 L1444.9,2433.6 L1445.6,2433.5 M1469.2,2430.1 L1469.4,2430.0 L1469.9,2429.9 L1470.4,2429.9 L1470.9,2429.8 L1471.4,2429.7 L1471.9,2429.7 L1472.4,2429.6 L1472.9,2429.5 L1473.4,2429.4 L1473.9,2429.4 L1474.2,2429.3 M1499.2,2425.7 L1503.0,2425.2 L1507.0,2424.6 L1511.0,2424.0 L1515.0,2423.5 L1519.0,2422.9 L1523.0,2422.3 L1527.0,2421.8 L1531.0,2421.2 L1535.0,2420.6 L1535.7,2420.5 M1559.4,2417.2 L1559.5,2417.2 L1560.0,2417.1 L1560.5,2417.1 L1561.0,2417.0 L1561.5,2416.9 L1562.0,2416.9 L1562.5,2416.8 L1563.0,2416.7 L1563.5,2416.7 L1564.0,2416.6 L1564.3,2416.5 M1589.3,2413.1 L1593.0,2412.6 L1597.0,2412.1 L1601.0,2411.5 L1605.0,2411.0 L1609.0,2410.5 L1613.0,2409.9 L1617.0,2409.4 L1621.0,2408.9 L1625.0,2408.3 L1625.9,2408.2 M1649.6,2405.1 L1650.0,2405.1 L1650.5,2405.0 L1651.0,2404.9 L1651.5,2404.9 L1652.0,2404.8 L1652.5,2404.7 L1653.0,2404.7 L1653.5,2404.6 L1654.0,2404.5 L1654.5,2404.5 L1654.6,2404.5 M1679.6,2401.2 L1683.5,2400.8 L1687.5,2400.2 L1691.5,2399.7 L1695.5,2399.2 L1699.5,2398.7 L1703.5,2398.2 L1707.5,2397.7 L1711.5,2397.2 L1715.5,2396.7 L1716.2,2396.6 M1739.9,2393.7 L1740.0,2393.7 L1740.5,2393.7 L1741.0,2393.6 L1741.5,2393.5 L1742.0,2393.5 L1742.5,2393.4 L1743.0,2393.3 L1743.5,2393.3 L1744.0,2393.2 L1744.5,2393.2 L1744.9,2393.1 M1770.0,2390.1 L1774.0,2389.6 L1778.0,2389.1 L1782.0,2388.7 L1786.0,2388.2 L1790.0,2387.7 L1794.0,2387.3 L1798.0,2386.8 L1802.0,2386.3 L1806.0,2385.9 L1806.6,2385.8 M1830.4,2383.1 L1830.5,2383.1 L1831.0,2383.0 L1831.5,2382.9 L1832.0,2382.9 L1832.5,2382.8 L1833.0,2382.8 L1833.5,2382.7 L1834.0,2382.7 L1834.5,2382.6 L1835.0,2382.5 L1835.3,2382.5 M1860.4,2379.7 L1864.0,2379.3 L1868.0,2378.9 L1872.0,2378.4 L1876.0,2378.0 L1880.0,2377.5 L1884.0,2377.1 L1888.0,2376.7 L1892.0,2376.2 L1896.0,2375.8 L1897.1,2375.7 M1920.9,2373.2 L1921.0,2373.1 L1921.5,2373.1 L1922.0,2373.0 L1922.5,2373.0 L1923.0,2372.9 L1923.5,2372.9 L1924.0,2372.8 L1924.5,2372.8 L1925.0,2372.7 L1925.5,2372.7 L1925.9,2372.6 M1951.0,2370.0 L1954.5,2369.7 L1958.5,2369.3 L1962.5,2368.9 L1966.5,2368.5 L1970.5,2368.0 L1974.5,2367.6 L1978.5,2367.2 L1982.5,2366.8 L1986.5,2366.4 L1987.7,2366.3 M2011.5,2364.0 L2011.5,2364.0 L2012.0,2364.0 L2012.5,2363.9 L2013.0,2363.9 L2013.5,2363.8 L2014.0,2363.8 L2014.5,2363.7 L2015.0,2363.7 L2015.5,2363.6 L2016.0,2363.6 L2016.4,2363.5 M2041.6,2361.1 L2045.5,2360.8 L2049.5,2360.4 L2053.5,2360.0 L2057.5,2359.6 L2061.5,2359.3 L2065.5,2358.9 L2069.5,2358.5 L2073.5,2358.2 L2077.5,2357.8 L2078.3,2357.7 M2102.1,2355.6 L2102.5,2355.6 L2103.0,2355.5 L2103.5,2355.5 L2104.0,2355.5 L2104.5,2355.4 L2105.0,2355.4 L2105.5,2355.3 L2106.0,2355.3 L2106.5,2355.2 L2107.0,2355.2 L2107.1,2355.2 M2132.3,2353.0 L2136.0,2352.7 L2140.0,2352.3 L2144.0,2352.0 L2148.0,2351.7 L2152.0,2351.3 L2156.0,2351.0 L2160.0,2350.7 L2164.0,2350.3 L2168.0,2350.0 L2169.0,2349.9 M2192.9,2348.0 L2193.0,2348.0 L2193.5,2348.0 L2194.0,2347.9 L2194.5,2347.9 L2195.0,2347.8 L2195.5,2347.8 L2196.0,2347.8 L2196.5,2347.7 L2197.0,2347.7 L2197.5,2347.6 L2197.8,2347.6 M2223.0,2345.6 L2226.5,2345.4 L2230.5,2345.1 L2234.5,2344.8 L2238.5,2344.5 L2242.5,2344.2 L2246.5,2343.9 L2250.5,2343.6 L2254.5,2343.3 L2258.5,2343.0 L2259.8,2342.9 M2283.7,2341.2 L2284.0,2341.2 L2284.5,2341.1 L2285.0,2341.1 L2285.5,2341.0 L2286.0,2341.0 L2286.5,2341.0 L2287.0,2340.9 L2287.5,2340.9 L2288.0,2340.9 L2288.5,2340.8 L2288.6,2340.8 M2313.8,2339.1 L2317.5,2338.8 L2321.5,2338.6 L2325.5,2338.3 L2329.5,2338.0 L2333.5,2337.8 L2337.5,2337.5 L2341.5,2337.2 L2345.5,2337.0 L2349.5,2336.7 L2350.7,2336.7 M2374.5,2335.1 L2374.5,2335.1 L2375.0,2335.1 L2375.5,2335.1 L2376.0,2335.1 L2376.5,2335.0 L2377.0,2335.0 L2377.5,2335.0 L2378.0,2334.9 L2378.5,2334.9 L2379.0,2334.9 L2379.5,2334.8 M2404.7,2333.3 L2408.6,2333.1 L2412.6,2332.9 L2416.6,2332.6 L2420.6,2332.4 L2424.6,2332.2 L2428.6,2331.9 L2432.6,2331.7 L2436.6,2331.5 L2440.6,2331.3 L2441.5,2331.2 M2465.4,2329.9 L2465.6,2329.9 L2466.1,2329.9 L2466.6,2329.9 L2467.1,2329.8 L2467.6,2329.8 L2468.1,2329.8 L2468.6,2329.8 L2469.1,2329.7 L2469.6,2329.7 L2470.1,2329.7 L2470.4,2329.7 M2495.6,2328.4 L2499.6,2328.2 L2503.6,2328.0 L2507.6,2327.8 L2511.6,2327.6 L2515.6,2327.4 L2519.6,2327.2 L2523.6,2327.0 L2527.6,2326.8 L2531.6,2326.6 L2532.5,2326.6 M2556.3,2325.5 L2556.6,2325.5 L2557.1,2325.5 L2557.6,2325.5 L2558.1,2325.4 L2558.6,2325.4 L2559.1,2325.4 L2559.6,2325.4 L2560.1,2325.3 L2560.6,2325.3 L2561.1,2325.3 L2561.3,2325.3 M2586.6,2324.2 L2590.1,2324.1 L2594.1,2323.9 L2598.1,2323.8 L2602.1,2323.6 L2606.1,2323.4 L2610.1,2323.3 L2614.1,2323.1 L2618.1,2323.0 L2622.1,2322.8 L2623.4,2322.8 M2647.3,2321.9 L2647.6,2321.9 L2648.1,2321.9 L2648.6,2321.9 L2649.1,2321.9 L2649.6,2321.8 L2650.1,2321.8 L2650.6,2321.8 L2651.1,2321.8 L2651.6,2321.8 L2652.1,2321.8 L2652.3,2321.7 M2677.6,2320.9 L2681.1,2320.8 L2685.1,2320.7 L2689.1,2320.5 L2693.1,2320.4 L2697.1,2320.3 L2701.1,2320.2 L2705.1,2320.1 L2709.1,2320.0 L2713.1,2319.8 L2714.4,2319.8 M2738.3,2319.2 L2738.6,2319.1 L2739.1,2319.1 L2739.6,2319.1 L2740.1,2319.1 L2740.6,2319.1 L2741.1,2319.1 L2741.6,2319.1 L2742.1,2319.1 L2742.6,2319.0 L2743.1,2319.0 L2743.3,2319.0 M2768.6,2318.4 L2772.1,2318.3 L2776.1,2318.3 L2780.1,2318.2 L2784.1,2318.1 L2788.1,2318.0 L2792.1,2317.9 L2796.1,2317.8 L2800.1,2317.8 L2804.1,2317.7 L2805.5,2317.7 M2829.4,2317.2 L2829.6,2317.2 L2830.1,2317.2 L2830.6,2317.2 L2831.1,2317.2 L2831.6,2317.2 L2832.1,2317.2 L2832.6,2317.2 L2833.1,2317.2 L2833.6,2317.2 L2834.1,2317.2 L2834.4,2317.2" fill="none" stroke="#e5201a" stroke-width="8.8" stroke-linecap="round"/>
<path d="M600.0,2647.5 L604.0,2646.8 L608.0,2646.1 L612.0,2645.4 L616.0,2644.7 L620.0,2644.0 L624.0,2643.3 L628.0,2642.6 L632.0,2641.9 L636.0,2641.2 L640.0,2640.5 L644.0,2639.8 L648.0,2639.1 L652.0,2638.4 L656.0,2637.7 L660.0,2637.0 L664.0,2636.3 L668.0,2635.6 L672.0,2634.9 L676.0,2634.2 L680.0,2633.5 L684.0,2632.8 L688.0,2632.1 L692.0,2631.4 L696.0,2630.8 L700.0,2630.1 L704.0,2629.4 L708.0,2628.7 L712.0,2628.0 L716.0,2627.3 L720.0,2626.7 L724.0,2626.0 L728.0,2625.3 L732.0,2624.6 L736.0,2623.9 L740.0,2623.3 L744.0,2622.6 L748.0,2621.9 L752.0,2621.2 L756.0,2620.6 L760.0,2619.9 L764.0,2619.2 L768.0,2618.6 L772.0,2617.9 L776.0,2617.2 L780.0,2616.6 L784.0,2615.9 L788.0,2615.2 L792.0,2614.6 L796.0,2613.9 L800.0,2613.3 L804.0,2612.6 L808.0,2611.9 L812.0,2611.3 L816.0,2610.6 L820.0,2610.0 L824.0,2609.3 L828.0,2608.7 L832.0,2608.0 L836.0,2607.4 L840.0,2606.7 L844.0,2606.1 L848.0,2605.4 L852.0,2604.8 L856.0,2604.1 L860.0,2603.5 L864.0,2602.8 L868.0,2602.2 L872.0,2601.6 L876.0,2600.9 L880.0,2600.3 L884.0,2599.6 L888.0,2599.0 L892.0,2598.4 L896.0,2597.7 L900.0,2597.1 L904.0,2596.5 L908.0,2595.8 L912.0,2595.2 L916.0,2594.6 L920.0,2593.9 L924.0,2593.3 L928.0,2592.7 L932.0,2592.1 L936.0,2591.4 L940.0,2590.8 L944.0,2590.2 L948.0,2589.6 L952.0,2589.0 L956.0,2588.3 L960.0,2587.7 L964.0,2587.1 L968.0,2586.5 L972.0,2585.9 L976.0,2585.3 L980.0,2584.7 L984.0,2584.0 L988.0,2583.4 L992.0,2582.8 L996.0,2582.2 L1000.0,2581.6 L1004.0,2581.0 L1008.0,2580.4 L1012.0,2579.8 L1016.0,2579.2 L1020.0,2578.6 L1024.0,2578.0 L1028.0,2577.4 L1032.0,2576.8 L1036.0,2576.2 L1040.0,2575.6 L1044.0,2575.0 L1048.0,2574.4 L1052.0,2573.8 L1056.0,2573.2 L1060.0,2572.6 L1064.0,2572.0 L1068.0,2571.5 L1072.0,2570.9 L1076.0,2570.3 L1080.0,2569.7 L1084.0,2569.1 L1088.0,2568.5 L1092.0,2567.9 L1096.0,2567.4 L1100.0,2566.8 L1104.0,2566.2 L1108.0,2565.6 L1112.0,2565.0 L1116.0,2564.5 L1120.0,2563.9 L1124.0,2563.3 L1128.0,2562.8 L1132.0,2562.2 L1136.0,2561.6 L1140.0,2561.0 L1144.0,2560.5 L1148.0,2559.9 L1152.0,2559.3 L1156.0,2558.8 L1160.0,2558.2 L1164.0,2557.7 L1168.0,2557.1 L1172.0,2556.5 L1176.0,2556.0 L1180.0,2555.4 L1184.0,2554.9 L1188.0,2554.3 L1192.0,2553.7 L1196.0,2553.2 L1200.0,2552.6 L1204.0,2552.1 L1208.0,2551.5 L1212.0,2551.0 L1216.0,2550.4 L1220.0,2549.9 L1224.0,2549.3 L1228.0,2548.8 L1232.0,2548.3 L1236.0,2547.7 L1240.0,2547.2 L1244.0,2546.6 L1248.0,2546.1 L1252.0,2545.6 L1256.0,2545.0 L1260.0,2544.5 L1264.0,2543.9 L1268.0,2543.4 L1272.0,2542.9 L1276.0,2542.4 L1280.0,2541.8 L1284.0,2541.3 L1288.0,2540.8 L1292.0,2540.2 L1296.0,2539.7 L1300.0,2539.2 L1304.0,2538.7 L1308.0,2538.1 L1312.0,2537.6 L1316.0,2537.1 L1320.0,2536.6 L1324.0,2536.1 L1328.0,2535.5 L1332.0,2535.0 L1336.0,2534.5 L1340.0,2534.0 L1344.0,2533.5 L1348.0,2533.0 L1352.0,2532.5 L1356.0,2532.0 L1360.0,2531.5 L1364.0,2530.9 L1368.0,2530.4 L1372.0,2529.9 L1376.0,2529.4 L1380.0,2528.9 L1384.0,2528.4 L1388.0,2527.9 L1392.0,2527.4 L1396.0,2526.9 L1400.0,2526.4 L1404.0,2525.9 L1408.0,2525.4 L1412.0,2525.0 L1416.0,2524.5 L1420.0,2524.0 L1424.0,2523.5 L1428.0,2523.0 L1432.0,2522.5 L1436.0,2522.0 L1440.0,2521.5 L1444.0,2521.0 L1448.0,2520.6 L1452.0,2520.1 L1456.0,2519.6 L1460.0,2519.1 L1464.0,2518.6 L1468.0,2518.2 L1472.0,2517.7 L1476.0,2517.2 L1480.0,2516.7 L1484.0,2516.3 L1488.0,2515.8 L1492.0,2515.3 L1496.0,2514.9 L1500.0,2514.4 L1504.0,2513.9 L1508.0,2513.5 L1512.0,2513.0 L1516.0,2512.5 L1520.0,2512.1 L1524.0,2511.6 L1528.0,2511.1 L1532.0,2510.7 L1536.0,2510.2 L1540.0,2509.8 L1544.0,2509.3 L1548.0,2508.9 L1552.0,2508.4 L1556.0,2508.0 L1560.0,2507.5 L1564.0,2507.1 L1568.0,2506.6 L1572.0,2506.2 L1576.0,2505.7 L1580.0,2505.3 L1584.0,2504.8 L1588.0,2504.4 L1592.0,2503.9 L1596.0,2503.5 L1600.0,2503.1 L1604.0,2502.6 L1608.0,2502.2 L1612.0,2501.8 L1616.0,2501.3 L1620.0,2500.9 L1624.0,2500.5 L1628.0,2500.0 L1632.0,2499.6 L1636.0,2499.2 L1640.0,2498.7 L1644.0,2498.3 L1648.0,2497.9 L1652.0,2497.5 L1656.0,2497.0 L1660.0,2496.6 L1664.0,2496.2 L1668.0,2495.8 L1672.0,2495.4 L1676.0,2494.9 L1680.0,2494.5 L1684.0,2494.1 L1688.0,2493.7 L1692.0,2493.3 L1696.0,2492.9 L1700.0,2492.5 L1704.0,2492.1 L1708.0,2491.7 L1712.0,2491.3 L1716.0,2490.8 L1720.0,2490.4 L1724.0,2490.0 L1728.0,2489.6 L1732.0,2489.2 L1736.0,2488.8 L1740.0,2488.4 L1744.0,2488.0 L1748.0,2487.6 L1752.0,2487.3 L1756.0,2486.9 L1760.0,2486.5 L1764.0,2486.1 L1768.0,2485.7 L1772.0,2485.3 L1776.0,2484.9 L1780.0,2484.5 L1784.0,2484.1 L1788.0,2483.8 L1792.0,2483.4 L1796.0,2483.0 L1800.0,2482.6 L1804.0,2482.2 L1808.0,2481.9 L1812.0,2481.5 L1816.0,2481.1 L1820.0,2480.7 L1824.0,2480.4 L1828.0,2480.0 L1832.0,2479.6 L1836.0,2479.2 L1840.0,2478.9 L1844.0,2478.5 L1848.0,2478.1 L1852.0,2477.8 L1856.0,2477.4 L1860.0,2477.1 L1864.0,2476.7 L1868.0,2476.3 L1872.0,2476.0 L1876.0,2475.6 L1880.0,2475.3 L1884.0,2474.9 L1888.0,2474.6 L1892.0,2474.2 L1896.0,2473.9 L1900.0,2473.5 L1904.0,2473.2 L1908.0,2472.8 L1912.0,2472.5 L1916.0,2472.1 L1920.0,2471.8 L1924.0,2471.4 L1928.0,2471.1 L1932.0,2470.8 L1936.0,2470.4 L1940.0,2470.1 L1944.0,2469.7 L1948.0,2469.4 L1952.0,2469.1 L1956.0,2468.7 L1960.0,2468.4 L1964.0,2468.1 L1968.0,2467.7 L1972.0,2467.4 L1976.0,2467.1 L1980.0,2466.8 L1984.0,2466.4 L1988.0,2466.1 L1992.0,2465.8 L1996.0,2465.5 L2000.0,2465.2 L2004.0,2464.8 L2008.0,2464.5 L2012.0,2464.2 L2016.0,2463.9 L2020.0,2463.6 L2024.0,2463.3 L2028.0,2463.0 L2032.0,2462.6 L2036.0,2462.3 L2040.0,2462.0 L2044.0,2461.7 L2048.0,2461.4 L2052.0,2461.1 L2056.0,2460.8 L2060.0,2460.5 L2064.0,2460.2 L2068.0,2459.9 L2072.0,2459.6 L2076.0,2459.3 L2080.0,2459.0 L2084.0,2458.7 L2088.0,2458.4 L2092.0,2458.1 L2096.0,2457.9 L2100.0,2457.6 L2104.0,2457.3 L2108.0,2457.0 L2112.0,2456.7 L2116.0,2456.4 L2120.0,2456.1 L2124.0,2455.9 L2128.0,2455.6 L2132.0,2455.3 L2136.0,2455.0 L2140.0,2454.8 L2144.0,2454.5 L2148.0,2454.2 L2152.0,2453.9 L2156.0,2453.7 L2160.0,2453.4 L2164.0,2453.1 L2168.0,2452.9 L2172.0,2452.6 L2176.0,2452.3 L2180.0,2452.1 L2184.0,2451.8 L2188.0,2451.5 L2192.0,2451.3 L2196.0,2451.0 L2200.0,2450.8 L2204.0,2450.5 L2208.0,2450.2 L2212.0,2450.0 L2216.0,2449.7 L2220.0,2449.5 L2224.0,2449.2 L2228.0,2449.0 L2232.0,2448.7 L2236.0,2448.5 L2240.0,2448.3 L2244.0,2448.0 L2248.0,2447.8 L2252.0,2447.5 L2256.0,2447.3 L2260.0,2447.0 L2264.0,2446.8 L2268.0,2446.6 L2272.0,2446.3 L2276.0,2446.1 L2280.0,2445.9 L2284.0,2445.6 L2288.0,2445.4 L2292.0,2445.2 L2296.0,2445.0 L2300.0,2444.7 L2304.0,2444.5 L2308.0,2444.3 L2312.0,2444.1 L2316.0,2443.8 L2320.0,2443.6 L2324.0,2443.4 L2328.0,2443.2 L2332.0,2443.0 L2336.0,2442.8 L2340.0,2442.5 L2344.0,2442.3 L2348.0,2442.1 L2352.0,2441.9 L2356.0,2441.7 L2360.0,2441.5 L2364.0,2441.3 L2368.0,2441.1 L2372.0,2440.9 L2376.0,2440.7 L2380.0,2440.5 L2384.0,2440.3 L2388.0,2440.1 L2392.0,2439.9 L2396.0,2439.7 L2400.0,2439.5 L2404.0,2439.3 L2408.0,2439.1 L2412.0,2438.9 L2416.0,2438.7 L2420.0,2438.6 L2424.0,2438.4 L2428.0,2438.2 L2432.0,2438.0 L2436.0,2437.8 L2440.0,2437.6 L2444.0,2437.5 L2448.0,2437.3 L2452.0,2437.1 L2456.0,2436.9 L2460.0,2436.8 L2464.0,2436.6 L2468.0,2436.4 L2472.0,2436.2 L2476.0,2436.1 L2480.0,2435.9 L2484.0,2435.7 L2488.0,2435.6 L2492.0,2435.4 L2496.0,2435.2 L2500.0,2435.1 L2504.0,2434.9 L2508.0,2434.8 L2512.0,2434.6 L2516.0,2434.4 L2520.0,2434.3 L2524.0,2434.1 L2528.0,2434.0 L2532.0,2433.8 L2536.0,2433.7 L2540.0,2433.5 L2544.0,2433.4 L2548.0,2433.2 L2552.0,2433.1 L2556.0,2433.0 L2560.0,2432.8 L2564.0,2432.7 L2568.0,2432.5 L2572.0,2432.4 L2576.0,2432.3 L2580.0,2432.1 L2584.0,2432.0 L2588.0,2431.9 L2592.0,2431.7 L2596.0,2431.6 L2600.0,2431.5 L2604.0,2431.3 L2608.0,2431.2 L2612.0,2431.1 L2616.0,2431.0 L2620.0,2430.8 L2624.0,2430.7 L2628.0,2430.6 L2632.0,2430.5 L2636.0,2430.4 L2640.0,2430.3 L2644.0,2430.1 L2648.0,2430.0 L2652.0,2429.9 L2656.0,2429.8 L2660.0,2429.7 L2664.0,2429.6 L2668.0,2429.5 L2672.0,2429.4 L2676.0,2429.3 L2680.0,2429.2 L2684.0,2429.1 L2688.0,2429.0 L2692.0,2428.9 L2696.0,2428.8 L2700.0,2428.7 L2704.0,2428.6 L2708.0,2428.5 L2712.0,2428.4 L2716.0,2428.3 L2720.0,2428.2 L2724.0,2428.1 L2728.0,2428.0 L2732.0,2428.0 L2736.0,2427.9 L2740.0,2427.8 L2744.0,2427.7 L2748.0,2427.6 L2752.0,2427.6 L2756.0,2427.5 L2760.0,2427.4 L2764.0,2427.3 L2768.0,2427.3 L2772.0,2427.2 L2776.0,2427.1 L2780.0,2427.0 L2784.0,2427.0 L2788.0,2426.9 L2792.0,2426.9 L2796.0,2426.8 L2800.0,2426.7 L2804.0,2426.7 L2808.0,2426.6 L2812.0,2426.5 L2816.0,2426.5 L2820.0,2426.4 L2824.0,2426.4 L2828.0,2426.3 L2832.0,2426.3 L2836.0,2426.2 L2840.0,2426.2 L2844.0,2426.1 L2848.0,2426.1 L2849.5,2426.1" fill="none" stroke="#1e4a9c" stroke-width="8.7" stroke-linecap="butt"/>
<path d="M630.4,1726.5 L660.7,1726.5 M700.2,1726.5 L729.7,1726.5 M769.2,1726.5 L789.7,1726.5" fill="none" stroke="#231815" stroke-width="6.8" stroke-linecap="round"/>
<text x="813.1" y="1766.0" font-size="108" letter-spacing="3.0" font-weight="300">矢跨比</text>
<text x="1137.8" y="1765.5" font-size="112">0.154</text>
<path d="M1420.4,1726.5 L1457.3,1726.5 M1480.4,1726.5 L1484.5,1726.5 M1508.5,1726.5 L1544.5,1726.5 M1567.3,1726.5 L1571.6,1726.5" fill="none" stroke="#e5201a" stroke-width="6.8" stroke-linecap="round"/>
<text x="1598.0" y="1766.0" font-size="108" letter-spacing="3.0" font-weight="300">矢跨比</text>
<text x="1925.9" y="1765.5" font-size="112">0.207</text>
<path d="M2189.1,1726.5 L2348.5,1726.5" fill="none" stroke="#1e4a9c" stroke-width="6.8" stroke-linecap="round"/>
<text x="2379.6" y="1766.0" font-size="108" letter-spacing="3.0" font-weight="300">矢跨比</text>
<text x="2706.6" y="1765.5" font-size="112">0.260</text>
<line x1="602.2" y1="3425.5" x2="2841.9" y2="3425.5" stroke="#231815" stroke-width="6.8"/>
<path d="M605.6,3428.9 V4632.3 H642.8" fill="none" stroke="#231815" stroke-width="6.8"/>
<line x1="605.6" y1="3727.2" x2="642.8" y2="3727.2" stroke="#231815" stroke-width="6.6"/>
<line x1="605.6" y1="4028.9" x2="642.8" y2="4028.9" stroke="#231815" stroke-width="6.6"/>
<line x1="605.6" y1="4330.6" x2="642.8" y2="4330.6" stroke="#231815" stroke-width="6.6"/>
<line x1="789.4" y1="3425.5" x2="789.4" y2="3450.0" stroke="#231815" stroke-width="6.6"/>
<line x1="994.3" y1="3425.5" x2="994.3" y2="3450.0" stroke="#231815" stroke-width="6.6"/>
<line x1="1199.2" y1="3425.5" x2="1199.2" y2="3450.0" stroke="#231815" stroke-width="6.6"/>
<line x1="1404.2" y1="3425.5" x2="1404.2" y2="3450.0" stroke="#231815" stroke-width="6.6"/>
<line x1="1609.1" y1="3425.5" x2="1609.1" y2="3450.0" stroke="#231815" stroke-width="6.6"/>
<line x1="1814.0" y1="3425.5" x2="1814.0" y2="3450.0" stroke="#231815" stroke-width="6.6"/>
<line x1="2018.9" y1="3425.5" x2="2018.9" y2="3450.0" stroke="#231815" stroke-width="6.6"/>
<line x1="2223.8" y1="3425.5" x2="2223.8" y2="3450.0" stroke="#231815" stroke-width="6.6"/>
<line x1="2428.8" y1="3425.5" x2="2428.8" y2="3450.0" stroke="#231815" stroke-width="6.6"/>
<line x1="2633.7" y1="3425.5" x2="2633.7" y2="3450.0" stroke="#231815" stroke-width="6.6"/>
<line x1="2838.6" y1="3425.5" x2="2838.6" y2="3450.0" stroke="#231815" stroke-width="6.6"/>
<text x="510.2" y="3458.8" font-size="112">0</text>
<text x="443.9" y="3760.8" font-size="112" letter-spacing="-1.98">0.5</text>
<text transform="translate(387.4,3746.9) scale(1,0.78)" font-size="104.0">&#8722;</text>
<text x="447.7" y="4061.7" font-size="112" letter-spacing="-2.15">1.0</text>
<text transform="translate(387.4,4048.4) scale(1,0.78)" font-size="104.0">&#8722;</text>
<text x="447.8" y="4361.2" font-size="112" letter-spacing="-4.19">1.5</text>
<text transform="translate(387.4,4348.3) scale(1,0.78)" font-size="104.0">&#8722;</text>
<text x="441.7" y="4645.4" font-size="112" letter-spacing="0.89">2.0</text>
<text transform="translate(387.4,4631.9) scale(1,0.78)" font-size="104.0">&#8722;</text>
<text x="723.4" y="3401.2" font-size="112" letter-spacing="0.2">0.7</text>
<text x="927.6" y="3401.2" font-size="112" letter-spacing="0.02">0.8</text>
<text x="1119.4" y="3401.2" font-size="112" letter-spacing="1.23">0.9</text>
<text x="1332.6" y="3401.2" font-size="112" letter-spacing="-1.65">1.0</text>
<text x="1547.2" y="3400.9" font-size="112" letter-spacing="-4.71">1.1</text>
<text x="1734.0" y="3401.0" font-size="112" letter-spacing="-1.59">1.2</text>
<text x="1947.0" y="3401.0" font-size="112" letter-spacing="-4.39">1.3</text>
<text x="2147.1" y="3400.9" font-size="112" letter-spacing="-3.8">1.4</text>
<text x="2354.8" y="3400.9" font-size="112" letter-spacing="-4.39">1.5</text>
<text x="2558.7" y="3401.0" font-size="112" letter-spacing="-3.01">1.6</text>
<text x="2758.8" y="3400.9" font-size="112" letter-spacing="-3.06">1.7</text>
<text transform="translate(1755.8,3295.8) scale(1.192,1.023)" font-size="112" font-style="italic">α</text>
<text transform="translate(331.5,4259.5) rotate(-90)" x="-4.4" y="0" font-size="108" font-weight="300">剪</text>
<text transform="translate(331.5,4259.5) rotate(-90)" x="105.5" y="0" font-size="108" font-weight="300">力</text>
<text transform="translate(331.5,4259.5) rotate(-90)" x="270.3" y="0" font-size="112">kN</text>
<text transform="translate(331.5,4259.5) rotate(-90) translate(218.6,-10.2) scale(1.206,0.876)" font-size="112" font-weight="300" style="font-family:&quot;Noto Serif CJK SC&quot;, serif">/</text>
<path d="M1242.8,4559.5 L1246.5,4556.8 L1250.5,4553.9 L1254.5,4550.9 L1258.5,4548.0 L1262.5,4545.1 L1266.5,4542.1 L1267.5,4541.4 M1299.0,4518.1 L1303.0,4515.2 L1307.0,4512.2 L1311.0,4509.2 L1315.0,4506.2 L1319.0,4503.3 L1323.0,4500.3 L1323.6,4499.9 M1354.8,4476.3 L1358.5,4473.5 L1362.5,4470.5 L1366.5,4467.5 L1370.5,4464.4 L1374.5,4461.4 L1378.5,4458.3 L1379.2,4457.8 M1410.2,4434.0 L1414.0,4431.1 L1418.0,4428.0 L1422.0,4424.9 L1426.0,4421.9 L1430.0,4418.8 L1434.0,4415.7 L1434.4,4415.4 M1465.2,4391.3 L1469.0,4388.4 L1473.0,4385.2 L1477.0,4382.1 L1481.0,4379.0 L1485.0,4375.8 L1489.0,4372.7 L1489.3,4372.5 M1519.9,4348.2 L1523.5,4345.3 L1527.5,4342.2 L1531.5,4339.0 L1535.5,4335.8 L1539.5,4332.6 L1543.5,4329.4 L1543.8,4329.2 M1574.2,4304.7 L1578.0,4301.7 L1582.0,4298.4 L1586.0,4295.2 L1590.0,4292.0 L1594.0,4288.7 L1598.0,4285.5 M1628.3,4260.9 L1632.0,4257.8 L1636.0,4254.5 L1640.0,4251.3 L1644.0,4248.0 L1648.0,4244.7 L1651.9,4241.6 M1682.0,4216.7 L1685.5,4213.8 L1689.5,4210.5 L1693.5,4207.2 L1697.5,4203.8 L1701.5,4200.5 L1705.5,4197.3 M1735.4,4172.3 L1739.0,4169.2 L1743.0,4165.9 L1747.0,4162.5 L1751.0,4159.2 L1755.0,4155.8 L1758.8,4152.7 M1788.6,4127.5 L1792.5,4124.2 L1796.5,4120.8 L1800.5,4117.4 L1804.5,4114.0 L1808.5,4110.6 L1811.8,4107.8 M1841.5,4082.6 L1845.0,4079.6 L1849.0,4076.1 L1853.0,4072.7 L1857.0,4069.3 L1861.0,4065.9 L1864.7,4062.8 M1894.2,4037.3 L1898.0,4034.0 L1902.0,4030.6 L1906.0,4027.1 L1910.1,4023.7 L1914.1,4020.2 L1917.3,4017.4 M1946.7,3991.9 L1950.6,3988.6 L1954.6,3985.1 L1958.6,3981.6 L1962.6,3978.1 L1966.6,3974.6 L1969.7,3971.9 M1999.0,3946.3 L2002.6,3943.2 L2006.6,3939.7 L2010.6,3936.2 L2014.6,3932.7 L2018.6,3929.1 L2021.9,3926.2 M2051.2,3900.5 L2055.1,3897.0 L2059.1,3893.5 L2063.1,3889.9 L2067.1,3886.4 L2071.1,3882.9 L2074.0,3880.3 M2103.1,3854.5 L2107.1,3851.0 L2111.1,3847.4 L2115.1,3843.9 L2119.1,3840.3 L2123.1,3836.7 L2125.9,3834.3 M2154.9,3808.3 L2158.6,3805.1 L2162.6,3801.5 L2166.6,3798.0 L2170.6,3794.4 L2174.6,3790.8 L2177.6,3788.1 M2206.6,3762.1 L2210.6,3758.5 L2214.6,3754.9 L2218.6,3751.3 L2222.6,3747.8 L2226.6,3744.2 L2229.2,3741.8 M2258.2,3715.7 L2262.1,3712.2 L2266.1,3708.6 L2270.1,3705.0 L2274.1,3701.4 L2278.1,3697.8 L2280.7,3695.3 M2309.6,3669.2 L2313.6,3665.7 L2317.6,3662.0 L2321.6,3658.4 L2325.6,3654.8 L2329.6,3651.2 L2332.2,3648.8 M2361.0,3622.7 L2364.6,3619.4 L2368.6,3615.8 L2372.6,3612.2 L2376.6,3608.5 L2380.6,3604.9 L2383.5,3602.2 M2412.3,3576.0 L2416.1,3572.6 L2420.1,3568.9 L2424.1,3565.3 L2428.1,3561.7 L2432.1,3558.0 L2434.8,3555.6 M2463.5,3529.4 L2467.1,3526.1 L2471.1,3522.4 L2475.1,3518.8 L2479.1,3515.1 L2483.1,3511.5 L2486.0,3508.9 M2514.7,3482.6 L2518.6,3479.0 L2522.6,3475.4 L2526.6,3471.7 L2530.6,3468.1 L2534.6,3464.4 L2537.1,3462.1 M2565.8,3435.8 L2569.6,3432.4 L2572.6,3429.7" fill="none" stroke="#231815" stroke-width="8.6" stroke-linecap="round"/>
<path d="M975.5,3713.0 L979.5,3712.4 L983.5,3711.9 L987.5,3711.3 L991.5,3710.8 L995.5,3710.2 L999.5,3709.7 L1003.5,3709.1 L1007.5,3708.5 L1011.5,3708.0 L1014.6,3707.5 M1039.7,3704.0 L1043.5,3703.5 L1045.6,3703.1 M1071.9,3699.4 L1075.5,3698.8 L1079.5,3698.3 L1083.5,3697.7 L1087.5,3697.1 L1091.5,3696.5 L1095.5,3695.9 L1099.5,3695.3 L1103.5,3694.7 L1107.5,3694.1 L1111.0,3693.6 M1136.0,3689.9 L1140.0,3689.3 L1142.0,3689.0 M1168.3,3685.0 L1172.0,3684.5 L1176.0,3683.9 L1180.0,3683.2 L1184.0,3682.6 L1188.0,3682.0 L1192.0,3681.4 L1196.0,3680.8 L1200.0,3680.2 L1204.0,3679.6 L1207.3,3679.0 M1232.3,3675.2 L1236.0,3674.6 L1238.3,3674.2 M1264.5,3670.1 L1268.5,3669.4 L1272.5,3668.8 L1276.5,3668.2 L1280.5,3667.5 L1284.5,3666.9 L1288.5,3666.3 L1292.5,3665.6 L1296.5,3665.0 L1300.5,3664.3 L1303.5,3663.8 M1328.5,3659.8 L1332.0,3659.2 L1334.4,3658.8 M1360.7,3654.5 L1364.5,3653.9 L1368.5,3653.3 L1372.5,3652.6 L1376.5,3651.9 L1380.5,3651.3 L1384.5,3650.6 L1388.5,3649.9 L1392.5,3649.3 L1396.5,3648.6 L1399.6,3648.1 M1424.6,3643.9 L1428.5,3643.3 L1430.5,3642.9 M1456.7,3638.5 L1460.5,3637.8 L1464.5,3637.2 L1468.5,3636.5 L1472.5,3635.8 L1476.5,3635.1 L1480.5,3634.4 L1484.5,3633.8 L1488.5,3633.1 L1492.5,3632.4 L1495.7,3631.8 M1520.6,3627.5 L1524.5,3626.9 L1526.5,3626.5 M1552.7,3622.0 L1556.5,3621.3 L1560.5,3620.6 L1564.5,3619.9 L1568.5,3619.2 L1572.5,3618.5 L1576.5,3617.8 L1580.5,3617.1 L1584.5,3616.4 L1588.5,3615.7 L1591.6,3615.1 M1616.6,3610.7 L1620.5,3610.0 L1622.5,3609.7 M1648.7,3605.0 L1652.5,3604.3 L1656.5,3603.6 L1660.5,3602.9 L1664.5,3602.2 L1668.5,3601.5 L1672.5,3600.7 L1676.5,3600.0 L1680.5,3599.3 L1684.5,3598.6 L1687.5,3598.1 M1712.4,3593.6 L1716.0,3592.9 L1718.3,3592.5 M1744.5,3587.7 L1748.0,3587.1 L1752.0,3586.4 L1756.0,3585.6 L1760.0,3584.9 L1764.0,3584.2 L1768.0,3583.4 L1772.0,3582.7 L1776.1,3582.0 L1780.1,3581.2 L1783.4,3580.6 M1808.2,3576.1 L1812.1,3575.4 L1814.1,3575.0 M1840.3,3570.1 L1844.1,3569.4 L1848.1,3568.7 L1852.1,3568.0 L1856.1,3567.2 L1860.1,3566.5 L1864.1,3565.7 L1868.1,3565.0 L1872.1,3564.2 L1876.1,3563.5 L1879.1,3562.9 M1904.0,3558.3 L1907.6,3557.6 L1909.9,3557.2 M1936.1,3552.3 L1939.6,3551.6 L1943.6,3550.9 L1947.6,3550.1 L1951.6,3549.4 L1955.6,3548.6 L1959.6,3547.9 L1963.6,3547.1 L1967.6,3546.4 L1971.6,3545.6 L1974.9,3545.0 M1999.7,3540.3 L2003.6,3539.6 L2005.6,3539.2 M2031.8,3534.2 L2035.6,3533.5 L2039.6,3532.8 L2043.6,3532.0 L2047.6,3531.2 L2051.6,3530.5 L2055.6,3529.7 L2059.6,3529.0 L2063.6,3528.2 L2067.6,3527.5 L2070.6,3526.9 M2095.4,3522.2 L2099.1,3521.5 L2101.3,3521.0 M2127.5,3516.1 L2131.1,3515.4 L2135.1,3514.6 L2139.1,3513.8 L2143.1,3513.1 L2147.1,3512.3 L2151.1,3511.5 L2155.1,3510.8 L2159.1,3510.0 L2163.1,3509.3 L2166.3,3508.6 M2191.1,3503.9 L2195.1,3503.1 L2197.0,3502.8 M2223.1,3497.8 L2227.1,3497.0 L2231.1,3496.2 L2235.1,3495.5 L2239.1,3494.7 L2243.1,3494.0 L2247.1,3493.2 L2251.1,3492.4 L2255.1,3491.7 L2259.1,3490.9 L2261.9,3490.3 M2286.8,3485.6 L2290.6,3484.9 L2292.7,3484.5 M2318.8,3479.5 L2322.6,3478.7 L2326.6,3478.0 L2330.6,3477.2 L2334.6,3476.4 L2338.6,3475.7 L2342.6,3474.9 L2346.6,3474.1 L2350.6,3473.4 L2354.6,3472.6 L2357.6,3472.0 M2382.4,3467.3 L2386.1,3466.6 L2388.3,3466.1 M2414.4,3461.1 L2418.1,3460.4 L2422.1,3459.7 L2426.1,3458.9 L2430.1,3458.2 L2434.1,3457.4 L2438.1,3456.6 L2442.1,3455.9 L2446.1,3455.1 L2450.1,3454.3 L2453.2,3453.7 M2478.1,3449.0 L2482.1,3448.2 L2484.0,3447.9 M2510.1,3442.9 L2514.1,3442.2 L2518.1,3441.4 L2522.1,3440.6 L2526.1,3439.9 L2530.1,3439.1 L2534.1,3438.4 L2538.1,3437.6 L2542.1,3436.8 L2546.1,3436.1 L2548.9,3435.5" fill="none" stroke="#e5201a" stroke-width="8.6" stroke-linecap="round"/>
<path d="M605.8,3725.9 L609.8,3725.5 L613.8,3725.1 L617.8,3724.7 L621.8,3724.3 L625.8,3723.8 L629.8,3723.4 L633.8,3723.0 L637.8,3722.6 L641.8,3722.2 L645.8,3721.8 L649.8,3721.4 L653.8,3720.9 L657.8,3720.5 L661.8,3720.1 L665.8,3719.7 L669.8,3719.2 L673.8,3718.8 L677.8,3718.4 L681.8,3718.0 L685.8,3717.5 L689.8,3717.1 L693.8,3716.7 L697.8,3716.2 L701.8,3715.8 L705.8,3715.4 L709.8,3714.9 L713.8,3714.5 L717.8,3714.1 L721.8,3713.6 L725.8,3713.2 L729.8,3712.7 L733.8,3712.3 L737.8,3711.8 L741.8,3711.4 L745.8,3711.0 L749.8,3710.5 L753.8,3710.1 L757.8,3709.6 L761.8,3709.2 L765.8,3708.7 L769.8,3708.3 L773.8,3707.8 L777.8,3707.3 L781.8,3706.9 L785.8,3706.4 L789.8,3706.0 L793.8,3705.5 L797.8,3705.0 L801.8,3704.6 L805.8,3704.1 L809.8,3703.7 L813.8,3703.2 L817.8,3702.7 L821.8,3702.3 L825.8,3701.8 L829.8,3701.3 L833.8,3700.8 L837.8,3700.4 L841.8,3699.9 L845.8,3699.4 L849.8,3699.0 L853.8,3698.5 L857.8,3698.0 L861.8,3697.5 L865.8,3697.0 L869.8,3696.6 L873.8,3696.1 L877.8,3695.6 L881.8,3695.1 L885.8,3694.6 L889.8,3694.1 L893.8,3693.7 L897.8,3693.2 L901.8,3692.7 L905.8,3692.2 L909.8,3691.7 L913.8,3691.2 L917.8,3690.7 L921.8,3690.2 L925.8,3689.7 L929.8,3689.2 L933.9,3688.7 L937.9,3688.2 L941.9,3687.7 L945.9,3687.2 L949.9,3686.7 L953.9,3686.2 L957.9,3685.7 L961.9,3685.2 L965.9,3684.7 L969.9,3684.2 L973.9,3683.7 L977.9,3683.2 L981.9,3682.7 L985.9,3682.2 L989.9,3681.7 L993.9,3681.1 L997.9,3680.6 L1001.9,3680.1 L1005.9,3679.6 L1009.9,3679.1 L1013.9,3678.6 L1017.9,3678.1 L1021.9,3677.5 L1025.9,3677.0 L1029.9,3676.5 L1033.9,3676.0 L1037.9,3675.4 L1041.9,3674.9 L1045.9,3674.4 L1049.9,3673.9 L1053.9,3673.3 L1057.9,3672.8 L1061.9,3672.3 L1065.9,3671.8 L1069.9,3671.2 L1073.9,3670.7 L1077.9,3670.2 L1081.9,3669.6 L1085.9,3669.1 L1089.9,3668.6 L1093.9,3668.0 L1097.9,3667.5 L1101.9,3666.9 L1105.9,3666.4 L1109.9,3665.9 L1113.9,3665.3 L1117.9,3664.8 L1121.9,3664.2 L1125.9,3663.7 L1129.9,3663.2 L1133.9,3662.6 L1137.9,3662.1 L1141.9,3661.5 L1145.9,3661.0 L1149.9,3660.4 L1153.9,3659.9 L1157.9,3659.3 L1161.9,3658.8 L1165.9,3658.2 L1169.9,3657.7 L1173.9,3657.1 L1177.9,3656.6 L1181.9,3656.0 L1185.9,3655.4 L1189.9,3654.9 L1193.9,3654.3 L1197.9,3653.8 L1201.9,3653.2 L1205.9,3652.6 L1209.9,3652.1 L1213.9,3651.5 L1217.9,3651.0 L1221.9,3650.4 L1225.9,3649.8 L1229.9,3649.3 L1233.9,3648.7 L1237.9,3648.1 L1241.9,3647.6 L1245.9,3647.0 L1249.9,3646.4 L1253.9,3645.9 L1257.9,3645.3 L1261.9,3644.7 L1265.9,3644.1 L1269.9,3643.6 L1273.9,3643.0 L1277.9,3642.4 L1281.9,3641.8 L1285.9,3641.3 L1289.9,3640.7 L1293.9,3640.1 L1297.9,3639.5 L1301.9,3638.9 L1305.9,3638.4 L1309.9,3637.8 L1313.9,3637.2 L1317.9,3636.6 L1321.9,3636.0 L1325.9,3635.4 L1329.9,3634.9 L1333.9,3634.3 L1337.9,3633.7 L1341.9,3633.1 L1345.9,3632.5 L1349.9,3631.9 L1353.9,3631.3 L1357.9,3630.7 L1361.9,3630.1 L1365.9,3629.6 L1369.9,3629.0 L1373.9,3628.4 L1377.9,3627.8 L1381.9,3627.2 L1385.9,3626.6 L1389.9,3626.0 L1393.9,3625.4 L1397.9,3624.8 L1401.9,3624.2 L1405.9,3623.6 L1409.9,3623.0 L1413.9,3622.4 L1417.9,3621.8 L1421.9,3621.2 L1425.9,3620.6 L1429.9,3620.0 L1433.9,3619.4 L1437.9,3618.8 L1441.9,3618.2 L1445.9,3617.6 L1449.9,3617.0 L1453.9,3616.3 L1457.9,3615.7 L1461.9,3615.1 L1465.9,3614.5 L1469.9,3613.9 L1473.9,3613.3 L1477.9,3612.7 L1481.9,3612.1 L1485.9,3611.5 L1489.9,3610.8 L1493.9,3610.2 L1497.9,3609.6 L1501.9,3609.0 L1505.9,3608.4 L1509.9,3607.8 L1513.9,3607.1 L1517.9,3606.5 L1521.9,3605.9 L1525.9,3605.3 L1529.9,3604.7 L1533.9,3604.0 L1537.9,3603.4 L1541.9,3602.8 L1545.9,3602.2 L1549.9,3601.6 L1553.9,3600.9 L1557.9,3600.3 L1561.9,3599.7 L1565.9,3599.1 L1569.9,3598.4 L1573.9,3597.8 L1577.9,3597.2 L1581.9,3596.5 L1585.9,3595.9 L1590.0,3595.3 L1594.0,3594.7 L1598.0,3594.0 L1602.0,3593.4 L1606.0,3592.8 L1610.0,3592.1 L1614.0,3591.5 L1618.0,3590.9 L1622.0,3590.2 L1626.0,3589.6 L1630.0,3589.0 L1634.0,3588.3 L1638.0,3587.7 L1642.0,3587.0 L1646.0,3586.4 L1650.0,3585.8 L1654.0,3585.1 L1658.0,3584.5 L1662.0,3583.9 L1666.0,3583.2 L1670.0,3582.6 L1674.0,3581.9 L1678.0,3581.3 L1682.0,3580.6 L1686.0,3580.0 L1690.0,3579.4 L1694.0,3578.7 L1698.0,3578.1 L1702.0,3577.4 L1706.0,3576.8 L1710.0,3576.1 L1714.0,3575.5 L1718.0,3574.8 L1722.0,3574.2 L1726.0,3573.5 L1730.0,3572.9 L1734.0,3572.2 L1738.0,3571.6 L1742.0,3570.9 L1746.0,3570.3 L1750.0,3569.6 L1754.0,3569.0 L1758.0,3568.3 L1762.0,3567.7 L1766.0,3567.0 L1770.0,3566.4 L1774.0,3565.7 L1778.0,3565.1 L1782.0,3564.4 L1786.0,3563.8 L1790.0,3563.1 L1794.0,3562.5 L1798.0,3561.8 L1802.0,3561.1 L1806.0,3560.5 L1810.0,3559.8 L1814.0,3559.2 L1818.0,3558.5 L1822.0,3557.8 L1826.0,3557.2 L1830.0,3556.5 L1834.0,3555.9 L1838.0,3555.2 L1842.0,3554.5 L1846.0,3553.9 L1850.0,3553.2 L1854.0,3552.6 L1858.0,3551.9 L1862.0,3551.2 L1866.0,3550.6 L1870.0,3549.9 L1874.0,3549.2 L1878.0,3548.6 L1882.0,3547.9 L1886.0,3547.2 L1890.0,3546.6 L1894.0,3545.9 L1898.0,3545.2 L1902.0,3544.6 L1906.0,3543.9 L1910.0,3543.2 L1914.0,3542.6 L1918.0,3541.9 L1922.0,3541.2 L1926.0,3540.6 L1930.0,3539.9 L1934.0,3539.2 L1938.0,3538.5 L1942.0,3537.9 L1946.0,3537.2 L1950.0,3536.5 L1954.0,3535.9 L1958.0,3535.2 L1962.0,3534.5 L1966.0,3533.8 L1970.0,3533.2 L1974.0,3532.5 L1978.0,3531.8 L1982.0,3531.1 L1986.0,3530.5 L1990.0,3529.8 L1994.0,3529.1 L1998.0,3528.4 L2002.0,3527.8 L2006.0,3527.1 L2010.0,3526.4 L2014.0,3525.7 L2018.0,3525.1 L2022.0,3524.4 L2026.0,3523.7 L2030.0,3523.0 L2034.0,3522.3 L2038.0,3521.7 L2042.0,3521.0 L2046.0,3520.3 L2050.0,3519.6 L2054.0,3518.9 L2058.0,3518.3 L2062.0,3517.6 L2066.0,3516.9 L2070.0,3516.2 L2074.0,3515.5 L2078.0,3514.9 L2082.0,3514.2 L2086.0,3513.5 L2090.0,3512.8 L2094.0,3512.1 L2098.0,3511.4 L2102.0,3510.8 L2106.0,3510.1 L2110.0,3509.4 L2114.0,3508.7 L2118.0,3508.0 L2122.0,3507.3 L2126.0,3506.6 L2130.0,3506.0 L2134.0,3505.3 L2138.0,3504.6 L2142.0,3503.9 L2146.0,3503.2 L2150.0,3502.5 L2154.0,3501.8 L2158.0,3501.2 L2162.0,3500.5 L2166.0,3499.8 L2170.0,3499.1 L2174.0,3498.4 L2178.0,3497.7 L2182.0,3497.0 L2186.0,3496.3 L2190.0,3495.7 L2194.0,3495.0 L2198.0,3494.3 L2202.0,3493.6 L2206.0,3492.9 L2210.0,3492.2 L2214.0,3491.5 L2218.0,3490.8 L2222.0,3490.1 L2226.0,3489.5 L2230.0,3488.8 L2234.0,3488.1 L2238.0,3487.4 L2242.0,3486.7 L2246.1,3486.0 L2250.1,3485.3 L2254.1,3484.6 L2258.1,3483.9 L2262.1,3483.2 L2266.1,3482.5 L2270.1,3481.8 L2274.1,3481.2 L2278.1,3480.5 L2282.1,3479.8 L2286.1,3479.1 L2290.1,3478.4 L2294.1,3477.7 L2298.1,3477.0 L2302.1,3476.3 L2306.1,3475.6 L2310.1,3474.9 L2314.1,3474.2 L2318.1,3473.5 L2322.1,3472.8 L2326.1,3472.1 L2330.1,3471.5 L2334.1,3470.8 L2338.1,3470.1 L2342.1,3469.4 L2346.1,3468.7 L2350.1,3468.0 L2354.1,3467.3 L2358.1,3466.6 L2362.1,3465.9 L2366.1,3465.2 L2370.1,3464.5 L2374.1,3463.8 L2378.1,3463.1 L2382.1,3462.4 L2386.1,3461.7 L2390.1,3461.0 L2394.1,3460.3 L2398.1,3459.6 L2402.1,3459.0 L2406.1,3458.3 L2410.1,3457.6 L2414.1,3456.9 L2418.1,3456.2 L2422.1,3455.5 L2426.1,3454.8 L2430.1,3454.1 L2434.1,3453.4 L2438.1,3452.7 L2442.1,3452.0 L2446.1,3451.3 L2450.1,3450.6 L2454.1,3449.9 L2458.1,3449.2 L2462.1,3448.5 L2466.1,3447.8 L2470.1,3447.1 L2474.1,3446.4 L2478.1,3445.7 L2482.1,3445.0 L2486.1,3444.3 L2490.1,3443.6 L2494.1,3442.9 L2498.1,3442.3 L2502.1,3441.6 L2506.1,3440.9 L2510.1,3440.2 L2514.1,3439.5 L2518.1,3438.8 L2522.1,3438.1 L2526.1,3437.4 L2530.1,3436.7 L2534.1,3436.0 L2538.1,3435.3 L2542.1,3434.6 L2546.1,3433.9 L2550.1,3433.2 L2554.1,3432.5 L2558.1,3431.8 L2562.1,3431.1 L2566.1,3430.4 L2570.1,3429.7 L2572.6,3429.3" fill="none" stroke="#1e4a9c" stroke-width="7.4" stroke-linecap="butt"/>
<path d="M1842.3,4189.4 L1872.6,4189.4 M1911.5,4189.4 L1941.5,4189.4 M1980.5,4189.4 L2000.6,4189.4" fill="none" stroke="#231815" stroke-width="6.8" stroke-linecap="round"/>
<text x="2023.3" y="4228.0" font-size="108" letter-spacing="3.0" font-weight="300">矢跨比</text>
<text x="2349.2" y="4227.5" font-size="112">0.154</text>
<path d="M1834.5,4333.5 L1870.7,4333.5 M1893.6,4333.5 L1898.4,4333.5 M1922.2,4333.5 L1958.6,4333.5 M1981.4,4333.5 L1985.5,4333.5" fill="none" stroke="#e5201a" stroke-width="6.8" stroke-linecap="round"/>
<text x="2013.1" y="4374.2" font-size="108" letter-spacing="3.0" font-weight="300">矢跨比</text>
<text x="2340.1" y="4373.7" font-size="112">0.207</text>
<path d="M1828.7,4475 L1987.3,4475" fill="none" stroke="#1e4a9c" stroke-width="6.8" stroke-linecap="round"/>
<text x="2019.9" y="4514.1" font-size="108" letter-spacing="3.0" font-weight="300">矢跨比</text>
<text x="2344.7" y="4513.6" font-size="112">0.260</text>
</svg>
</body></html>
